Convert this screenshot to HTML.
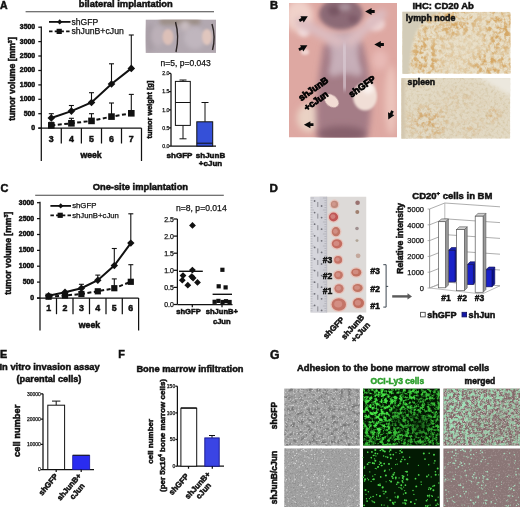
<!DOCTYPE html>
<html><head><meta charset="utf-8"><style>
html,body{margin:0;padding:0;background:#fff;}
svg{display:block;filter:blur(0.3px);}
text{font-family:"Liberation Sans",sans-serif;}
</style></head><body>
<svg width="520" height="507" viewBox="0 0 520 507">

<defs>
<filter id="b05" x="-20%" y="-20%" width="140%" height="140%"><feGaussianBlur stdDeviation="0.5"/></filter>
<filter id="b1" x="-50%" y="-50%" width="200%" height="200%"><feGaussianBlur stdDeviation="1"/></filter>
<filter id="b2" x="-50%" y="-50%" width="200%" height="200%"><feGaussianBlur stdDeviation="2"/></filter>
<filter id="b3" x="-50%" y="-50%" width="200%" height="200%"><feGaussianBlur stdDeviation="3"/></filter>
<filter id="b5" x="-50%" y="-50%" width="200%" height="200%"><feGaussianBlur stdDeviation="5"/></filter>
<clipPath id="clipAph"><rect x="145.5" y="19.4" width="70.5" height="33.5"/></clipPath>
<clipPath id="clipB"><rect x="289" y="3" width="108" height="134.5"/></clipPath>
<clipPath id="clipLN"><rect x="402.4" y="11.7" width="108.2" height="62"/></clipPath>
<clipPath id="clipSP"><rect x="401.3" y="78" width="109" height="60.7"/></clipPath>
<mask id="mLN" maskUnits="userSpaceOnUse" x="395" y="5" width="125" height="75"><g filter="url(#b5)">
<rect x="395" y="5" width="125" height="75" fill="#666"/>
<ellipse cx="455" cy="22" rx="18" ry="12" fill="#fff"/><ellipse cx="500" cy="30" rx="14" ry="18" fill="#fff"/>
<ellipse cx="492" cy="65" rx="18" ry="12" fill="#fff"/><ellipse cx="425" cy="58" rx="12" ry="18" fill="#fff"/>
<ellipse cx="470" cy="45" rx="12" ry="12" fill="#333"/><ellipse cx="432" cy="28" rx="10" ry="8" fill="#eee"/></g></mask>
<mask id="mSP" maskUnits="userSpaceOnUse" x="395" y="72" width="125" height="75"><g filter="url(#b5)">
<ellipse cx="428" cy="122" rx="20" ry="16" fill="#fff"/><ellipse cx="492" cy="114" rx="8" ry="8" fill="#fff"/>
<ellipse cx="470" cy="128" rx="14" ry="8" fill="#888"/><ellipse cx="460" cy="100" rx="20" ry="10" fill="#555"/></g></mask>
<mask id="mG1" maskUnits="userSpaceOnUse" x="360" y="385" width="85" height="65"><rect x="360" y="385" width="85" height="65" fill="#ccc"/><g filter="url(#b5)">
<ellipse cx="378" cy="410" rx="16" ry="28" fill="#fff"/><ellipse cx="405" cy="398" rx="14" ry="9" fill="#fff"/>
<ellipse cx="420" cy="425" rx="9" ry="10" fill="#555"/><ellipse cx="395" cy="420" rx="6" ry="6" fill="#555"/></g></mask>
<mask id="mG2" maskUnits="userSpaceOnUse" x="440" y="385" width="85" height="65"><rect x="440" y="385" width="85" height="65" fill="#ccc"/><g filter="url(#b5)">
<ellipse cx="458" cy="410" rx="16" ry="28" fill="#fff"/><ellipse cx="485" cy="398" rx="14" ry="9" fill="#fff"/>
<ellipse cx="500" cy="425" rx="9" ry="10" fill="#555"/><ellipse cx="475" cy="420" rx="6" ry="6" fill="#555"/></g></mask>
<clipPath id="clipD"><rect x="310.3" y="196.5" width="56.2" height="116.2"/></clipPath>
<filter id="spk1" x="0" y="0" width="100%" height="100%" filterUnits="objectBoundingBox"><feTurbulence type="fractalNoise" baseFrequency="0.22" numOctaves="3" seed="3" result="n"/><feColorMatrix in="n" type="matrix" values="0 0 0 0 0  0 0 0 0 0  0 0 0 0 0  3.4 0 0 0 -1.4" result="a"/><feComposite in="SourceGraphic" in2="a" operator="in"/></filter><filter id="spk2" x="0" y="0" width="100%" height="100%" filterUnits="objectBoundingBox"><feTurbulence type="fractalNoise" baseFrequency="0.22" numOctaves="3" seed="7" result="n"/><feColorMatrix in="n" type="matrix" values="0 0 0 0 0  0 0 0 0 0  0 0 0 0 0  3.4 0 0 0 -1.45" result="a"/><feComposite in="SourceGraphic" in2="a" operator="in"/></filter><filter id="spkS" x="0" y="0" width="100%" height="100%" filterUnits="objectBoundingBox"><feTurbulence type="fractalNoise" baseFrequency="0.35" numOctaves="2" seed="21" result="n"/><feColorMatrix in="n" type="matrix" values="0 0 0 0 0  0 0 0 0 0  0 0 0 0 0  3.0 0 0 0 -1.4" result="a"/><feComposite in="SourceGraphic" in2="a" operator="in"/></filter><filter id="spkG1" x="0" y="0" width="100%" height="100%" filterUnits="objectBoundingBox"><feTurbulence type="fractalNoise" baseFrequency="0.25" numOctaves="3" seed="11" result="n"/><feColorMatrix in="n" type="matrix" values="0 0 0 0 0  0 0 0 0 0  0 0 0 0 0  3.0 0 0 0 -1.35" result="a"/><feComposite in="SourceGraphic" in2="a" operator="in"/></filter><filter id="spkG2" x="0" y="0" width="100%" height="100%" filterUnits="objectBoundingBox"><feTurbulence type="fractalNoise" baseFrequency="0.6" numOctaves="2" seed="5" result="n"/><feColorMatrix in="n" type="matrix" values="0 0 0 0 0  0 0 0 0 0  0 0 0 0 0  3.0 0 0 0 -1.55" result="a"/><feComposite in="SourceGraphic" in2="a" operator="in"/></filter><filter id="spkG3" x="0" y="0" width="100%" height="100%" filterUnits="objectBoundingBox"><feTurbulence type="fractalNoise" baseFrequency="0.7" numOctaves="2" seed="9" result="n"/><feColorMatrix in="n" type="matrix" values="0 0 0 0 0  0 0 0 0 0  0 0 0 0 0  3.5 0 0 0 -1.9" result="a"/><feComposite in="SourceGraphic" in2="a" operator="in"/></filter><filter id="spkGr1" x="0" y="0" width="100%" height="100%" filterUnits="objectBoundingBox"><feTurbulence type="fractalNoise" baseFrequency="0.32" numOctaves="3" seed="13" result="n"/><feColorMatrix in="n" type="matrix" values="0 0 0 0 0  0 0 0 0 0  0 0 0 0 0  4.0 0 0 0 -1.6" result="a"/><feComposite in="SourceGraphic" in2="a" operator="in"/></filter><filter id="spkGr2" x="0" y="0" width="100%" height="100%" filterUnits="objectBoundingBox"><feTurbulence type="fractalNoise" baseFrequency="0.8" numOctaves="2" seed="17" result="n"/><feColorMatrix in="n" type="matrix" values="0 0 0 0 0  0 0 0 0 0  0 0 0 0 0  4.0 0 0 0 -2.35" result="a"/><feComposite in="SourceGraphic" in2="a" operator="in"/></filter>
</defs>

<rect width="520" height="507" fill="#fff"/>
<text x="0.0" y="8.8" font-size="10.5" font-weight="bold" text-anchor="start" fill="#111" stroke="#111" stroke-width="0.5">A</text>
<text x="78.8" y="6.6" font-size="9.35" font-weight="bold" text-anchor="start" fill="#111" stroke="#111" stroke-width="0.5">bilateral implantation</text>
<line x1="25.6" y1="11.7" x2="214.0" y2="11.7" stroke="#444" stroke-width="1.1"/>
<line x1="49.0" y1="21.9" x2="70.5" y2="21.9" stroke="#111" stroke-width="1.8"/>
<path d="M59.7 19.3L62.3 21.9L59.7 24.5L57.1 21.9Z" fill="#111"/>
<text x="71.4" y="24.9" font-size="8.6" font-weight="normal" text-anchor="start" fill="#111" stroke="#111" stroke-width="0.25">shGFP</text>
<line x1="49.0" y1="31.4" x2="70.5" y2="31.4" stroke="#111" stroke-width="1.8" stroke-dasharray="3.5 2.2"/>
<rect x="56.6" y="28.8" width="5.2" height="5.2" fill="#111" stroke="none" stroke-width="1"/>
<text x="71.4" y="34.4" font-size="8.7" font-weight="normal" text-anchor="start" fill="#111" stroke="#111" stroke-width="0.25">shJunB+cJun</text>
<line x1="41.3" y1="26.5" x2="41.3" y2="161.0" stroke="#111" stroke-width="1.25"/>
<line x1="38.3" y1="128.1" x2="141.5" y2="128.1" stroke="#111" stroke-width="1.25"/>
<line x1="141.5" y1="128.1" x2="141.5" y2="161.0" stroke="#111" stroke-width="1.25"/>
<line x1="38.3" y1="128.1" x2="41.3" y2="128.1" stroke="#111" stroke-width="1.25"/>
<text x="35.2" y="130.0" font-size="6.9" font-weight="bold" text-anchor="end" fill="#111" stroke="#111" stroke-width="0.5">0</text>
<line x1="38.3" y1="113.7" x2="41.3" y2="113.7" stroke="#111" stroke-width="1.25"/>
<text x="35.2" y="115.6" font-size="6.9" font-weight="bold" text-anchor="end" fill="#111" stroke="#111" stroke-width="0.5">500</text>
<line x1="38.3" y1="99.3" x2="41.3" y2="99.3" stroke="#111" stroke-width="1.25"/>
<text x="35.2" y="101.2" font-size="6.9" font-weight="bold" text-anchor="end" fill="#111" stroke="#111" stroke-width="0.5">1000</text>
<line x1="38.3" y1="84.9" x2="41.3" y2="84.9" stroke="#111" stroke-width="1.25"/>
<text x="35.2" y="86.8" font-size="6.9" font-weight="bold" text-anchor="end" fill="#111" stroke="#111" stroke-width="0.5">1500</text>
<line x1="38.3" y1="70.5" x2="41.3" y2="70.5" stroke="#111" stroke-width="1.25"/>
<text x="35.2" y="72.4" font-size="6.9" font-weight="bold" text-anchor="end" fill="#111" stroke="#111" stroke-width="0.5">2000</text>
<line x1="38.3" y1="56.0" x2="41.3" y2="56.0" stroke="#111" stroke-width="1.25"/>
<text x="35.2" y="57.9" font-size="6.9" font-weight="bold" text-anchor="end" fill="#111" stroke="#111" stroke-width="0.5">2500</text>
<line x1="38.3" y1="41.6" x2="41.3" y2="41.6" stroke="#111" stroke-width="1.25"/>
<text x="35.2" y="43.5" font-size="6.9" font-weight="bold" text-anchor="end" fill="#111" stroke="#111" stroke-width="0.5">3000</text>
<line x1="38.3" y1="27.2" x2="41.3" y2="27.2" stroke="#111" stroke-width="1.25"/>
<text x="35.2" y="29.1" font-size="6.9" font-weight="bold" text-anchor="end" fill="#111" stroke="#111" stroke-width="0.5">3500</text>
<line x1="61.3" y1="128.1" x2="61.3" y2="143.5" stroke="#111" stroke-width="1.25"/>
<line x1="81.4" y1="128.1" x2="81.4" y2="143.5" stroke="#111" stroke-width="1.25"/>
<line x1="101.5" y1="128.1" x2="101.5" y2="143.5" stroke="#111" stroke-width="1.25"/>
<line x1="121.5" y1="128.1" x2="121.5" y2="143.5" stroke="#111" stroke-width="1.25"/>
<text x="51.3" y="142.0" font-size="8.8" font-weight="bold" text-anchor="middle" fill="#111" stroke="#111" stroke-width="0.5">3</text>
<text x="71.4" y="142.0" font-size="8.8" font-weight="bold" text-anchor="middle" fill="#111" stroke="#111" stroke-width="0.5">4</text>
<text x="91.5" y="142.0" font-size="8.8" font-weight="bold" text-anchor="middle" fill="#111" stroke="#111" stroke-width="0.5">5</text>
<text x="111.5" y="142.0" font-size="8.8" font-weight="bold" text-anchor="middle" fill="#111" stroke="#111" stroke-width="0.5">6</text>
<text x="131.3" y="142.0" font-size="8.8" font-weight="bold" text-anchor="middle" fill="#111" stroke="#111" stroke-width="0.5">7</text>
<text x="91.1" y="158.4" font-size="8.7" font-weight="bold" text-anchor="middle" fill="#111" stroke="#111" stroke-width="0.5">week</text>
<text x="14.9" y="79.0" font-size="8.65" font-weight="bold" text-anchor="middle" fill="#111" stroke="#111" stroke-width="0.5" transform="rotate(-90 14.9 79)">tumor volume [mm<tspan font-size="5.5" dy="-3">3</tspan><tspan dy="3">]</tspan></text>
<line x1="51.3" y1="118.0" x2="51.3" y2="113.7" stroke="#111" stroke-width="1.1"/>
<line x1="48.8" y1="113.7" x2="53.8" y2="113.7" stroke="#111" stroke-width="1.1"/>
<line x1="71.4" y1="111.1" x2="71.4" y2="105.5" stroke="#111" stroke-width="1.1"/>
<line x1="68.9" y1="105.5" x2="73.9" y2="105.5" stroke="#111" stroke-width="1.1"/>
<line x1="91.5" y1="102.5" x2="91.5" y2="92.7" stroke="#111" stroke-width="1.1"/>
<line x1="89.0" y1="92.7" x2="94.0" y2="92.7" stroke="#111" stroke-width="1.1"/>
<line x1="111.5" y1="84.0" x2="111.5" y2="63.8" stroke="#111" stroke-width="1.1"/>
<line x1="109.0" y1="63.8" x2="114.0" y2="63.8" stroke="#111" stroke-width="1.1"/>
<line x1="131.3" y1="68.4" x2="131.3" y2="35.0" stroke="#111" stroke-width="1.1"/>
<line x1="128.8" y1="35.0" x2="133.8" y2="35.0" stroke="#111" stroke-width="1.1"/>
<line x1="51.3" y1="125.4" x2="51.3" y2="122.3" stroke="#111" stroke-width="1.1"/>
<line x1="48.8" y1="122.3" x2="53.8" y2="122.3" stroke="#111" stroke-width="1.1"/>
<line x1="71.4" y1="123.3" x2="71.4" y2="118.3" stroke="#111" stroke-width="1.1"/>
<line x1="68.9" y1="118.3" x2="73.9" y2="118.3" stroke="#111" stroke-width="1.1"/>
<line x1="91.5" y1="120.9" x2="91.5" y2="113.7" stroke="#111" stroke-width="1.1"/>
<line x1="89.0" y1="113.7" x2="94.0" y2="113.7" stroke="#111" stroke-width="1.1"/>
<line x1="111.5" y1="116.6" x2="111.5" y2="103.0" stroke="#111" stroke-width="1.1"/>
<line x1="109.0" y1="103.0" x2="114.0" y2="103.0" stroke="#111" stroke-width="1.1"/>
<line x1="131.3" y1="113.3" x2="131.3" y2="94.4" stroke="#111" stroke-width="1.1"/>
<line x1="128.8" y1="94.4" x2="133.8" y2="94.4" stroke="#111" stroke-width="1.1"/>
<polyline points="51.3,118.0 71.4,111.1 91.5,102.5 111.5,84.0 131.3,68.4" fill="none" stroke="#111" stroke-width="2"/>
<polyline points="51.3,125.4 71.4,123.3 91.5,120.9 111.5,116.6 131.3,113.3" fill="none" stroke="#111" stroke-width="2" stroke-dasharray="4 2.5"/>
<path d="M51.3 114.2L55.1 118.0L51.3 121.8L47.5 118.0Z" fill="#111"/>
<path d="M71.4 107.3L75.2 111.1L71.4 114.9L67.6 111.1Z" fill="#111"/>
<path d="M91.5 98.7L95.3 102.5L91.5 106.3L87.7 102.5Z" fill="#111"/>
<path d="M111.5 80.2L115.3 84.0L111.5 87.8L107.7 84.0Z" fill="#111"/>
<path d="M131.3 64.6L135.1 68.4L131.3 72.2L127.5 68.4Z" fill="#111"/>
<rect x="48.0" y="122.1" width="6.6" height="6.6" fill="#111" stroke="none" stroke-width="1"/>
<rect x="68.1" y="120.0" width="6.6" height="6.6" fill="#111" stroke="none" stroke-width="1"/>
<rect x="88.2" y="117.6" width="6.6" height="6.6" fill="#111" stroke="none" stroke-width="1"/>
<rect x="108.2" y="113.3" width="6.6" height="6.6" fill="#111" stroke="none" stroke-width="1"/>
<rect x="128.0" y="110.0" width="6.6" height="6.6" fill="#111" stroke="none" stroke-width="1"/>
<g clip-path="url(#clipAph)">
<rect x="145.5" y="19.4" width="70.5" height="33.5" fill="#b2a8b0" stroke="none" stroke-width="1"/>
<rect x="160" y="18" width="40" height="7" fill="#9c8e86" filter="url(#b2)"/>
<ellipse cx="150" cy="38" rx="5" ry="14" fill="#a89ea6" filter="url(#b2)"/>
<ellipse cx="195" cy="38" rx="11" ry="11" fill="#c0b6be" filter="url(#b2)"/>
<ellipse cx="158" cy="36" rx="7" ry="10" fill="#bcb0b8" filter="url(#b2)"/>
<ellipse cx="168" cy="37" rx="5.5" ry="8" fill="#dcc0b8" filter="url(#b1)"/>
<ellipse cx="207" cy="37" rx="5" ry="8" fill="#e0c6be" filter="url(#b1)"/>
<ellipse cx="185" cy="26" rx="5" ry="5" fill="#c8bcc0" filter="url(#b2)"/>
<path d="M175.5 22 Q179.5 36 176 52" stroke="#2e2626" stroke-width="1.4" fill="none" filter="url(#b05)"/>
<path d="M212 24 Q216 37 212.5 50" stroke="#2e2626" stroke-width="1.4" fill="none" filter="url(#b05)"/>
</g>
<text x="160.6" y="66.1" font-size="8.5" font-weight="normal" text-anchor="start" fill="#111" stroke="#111" stroke-width="0.25">n=5, p=0.043</text>
<line x1="171.0" y1="73.4" x2="171.0" y2="146.1" stroke="#111" stroke-width="1.25"/>
<line x1="171.0" y1="146.1" x2="216.0" y2="146.1" stroke="#111" stroke-width="1.25"/>
<line x1="169.0" y1="146.1" x2="171.0" y2="146.1" stroke="#111" stroke-width="1.25"/>
<text x="169.5" y="147.9" font-size="5.2" font-weight="normal" text-anchor="end" fill="#111" stroke="#111" stroke-width="0.25">0.0</text>
<line x1="169.0" y1="127.9" x2="171.0" y2="127.9" stroke="#111" stroke-width="1.25"/>
<text x="169.5" y="129.7" font-size="5.2" font-weight="normal" text-anchor="end" fill="#111" stroke="#111" stroke-width="0.25">0.5</text>
<line x1="169.0" y1="109.8" x2="171.0" y2="109.8" stroke="#111" stroke-width="1.25"/>
<text x="169.5" y="111.6" font-size="5.2" font-weight="normal" text-anchor="end" fill="#111" stroke="#111" stroke-width="0.25">1.0</text>
<line x1="169.0" y1="91.6" x2="171.0" y2="91.6" stroke="#111" stroke-width="1.25"/>
<text x="169.5" y="93.4" font-size="5.2" font-weight="normal" text-anchor="end" fill="#111" stroke="#111" stroke-width="0.25">1.5</text>
<line x1="169.0" y1="73.4" x2="171.0" y2="73.4" stroke="#111" stroke-width="1.25"/>
<text x="169.5" y="75.2" font-size="5.2" font-weight="normal" text-anchor="end" fill="#111" stroke="#111" stroke-width="0.25">2.0</text>
<text x="152.4" y="109.6" font-size="7.4" font-weight="bold" text-anchor="middle" fill="#111" stroke="#111" stroke-width="0.5" transform="rotate(-90 152.4 109.6)">tumor weight [g]</text>
<line x1="183.0" y1="80.0" x2="183.0" y2="138.8" stroke="#111" stroke-width="1"/>
<line x1="179.5" y1="80.0" x2="186.5" y2="80.0" stroke="#111" stroke-width="1"/>
<line x1="179.5" y1="138.8" x2="186.5" y2="138.8" stroke="#111" stroke-width="1"/>
<rect x="175.4" y="81.4" width="14.9" height="44.0" fill="#fff" stroke="#111" stroke-width="1"/>
<line x1="175.4" y1="102.5" x2="190.3" y2="102.5" stroke="#111" stroke-width="1"/>
<line x1="205.0" y1="102.5" x2="205.0" y2="121.8" stroke="#111" stroke-width="1"/>
<line x1="201.5" y1="102.5" x2="208.5" y2="102.5" stroke="#111" stroke-width="1"/>
<rect x="196.8" y="121.8" width="15.9" height="24.3" fill="#3550d8" stroke="#111" stroke-width="1"/>
<line x1="196.8" y1="143.2" x2="212.7" y2="143.2" stroke="#111" stroke-width="1"/>
<text x="179.5" y="157.7" font-size="8.0" font-weight="bold" text-anchor="middle" fill="#111" stroke="#111" stroke-width="0.5">shGFP</text>
<text x="210.5" y="157.7" font-size="8.0" font-weight="bold" text-anchor="middle" fill="#111" stroke="#111" stroke-width="0.5">shJunB</text>
<text x="210.5" y="165.5" font-size="8.0" font-weight="bold" text-anchor="middle" fill="#111" stroke="#111" stroke-width="0.5">+cJun</text>
<text x="269.9" y="8.5" font-size="11.2" font-weight="bold" text-anchor="start" fill="#111" stroke="#111" stroke-width="0.5">B</text>
<g clip-path="url(#clipB)">
<rect x="289.0" y="3.0" width="108.0" height="134.5" fill="#dea8a2" stroke="none" stroke-width="1"/>
<ellipse cx="299" cy="16" rx="14" ry="16" fill="#f0d2ca" filter="url(#b3)"/>
<ellipse cx="376" cy="24" rx="9" ry="7" fill="#f0d6d4" filter="url(#b2)"/>
<ellipse cx="304" cy="31" rx="6" ry="6" fill="#f2dcdc" filter="url(#b2)"/>
<ellipse cx="309" cy="118" rx="12" ry="14" fill="#ead2c4" filter="url(#b3)"/>
<ellipse cx="391" cy="100" rx="6" ry="35" fill="#ecc4bc" filter="url(#b3)"/>
<ellipse cx="380" cy="60" rx="8" ry="10" fill="#e8bab6" filter="url(#b3)"/>
<path d="M324 44 L362 42 Q370 70 371 100 Q371 125 366 140 L318 140 Q315 118 317 98 Q319 70 324 44 Z" fill="#a47c86" filter="url(#b3)"/>
<ellipse cx="341" cy="14" rx="22" ry="16" fill="#8c6a76" filter="url(#b2)"/>
<ellipse cx="334" cy="11" rx="6" ry="5" fill="#785664" filter="url(#b2)"/>
<ellipse cx="353" cy="19" rx="5" ry="4" fill="#7e5a68" filter="url(#b2)"/>
<ellipse cx="345" cy="7" rx="6" ry="4" fill="#a8909a" filter="url(#b2)"/>
<path d="M328 34 L360 32 L357 74 L333 74 Z" fill="#c4acb6" filter="url(#b3)"/>
<path d="M300 22 L344 45 M382 14 L346 45" stroke="#dcbcc0" stroke-width="10" stroke-linecap="round" fill="none" filter="url(#b3)"/>
<path d="M345 46 L333 72 M345 46 L358 72" stroke="#c8b0ba" stroke-width="8" stroke-linecap="round" fill="none" filter="url(#b3)"/>
<path d="M344 44 L345 90" stroke="#dccdd6" stroke-width="4" fill="none" filter="url(#b2)"/>
<ellipse cx="305" cy="52" rx="4" ry="3" fill="#f0d4d0" filter="url(#b1)"/>
<ellipse cx="342" cy="134" rx="24" ry="8" fill="#86606c" filter="url(#b3)"/>
<ellipse cx="365" cy="96.5" rx="12" ry="14" fill="#f0ded6" filter="url(#b1)"/>
<ellipse cx="368" cy="88" rx="6" ry="6" fill="#fbf2ee" filter="url(#b2)"/>
<ellipse cx="331.5" cy="100.8" rx="8" ry="5.6" transform="rotate(40 331.5 100.8)" fill="#f2dcd4" filter="url(#b05)"/>
</g>
<path transform="translate(307.8 16.3) rotate(-28) scale(1.0)" d="M0 0 L-6.5 -3.5 L-6.5 -1.4 L-9.6 -1.4 L-9.6 1.4 L-6.5 1.4 L-6.5 3.5 Z" fill="#0a0a0a"/>
<path transform="translate(307.4 45.3) rotate(-28) scale(1.0)" d="M0 0 L-6.5 -3.5 L-6.5 -1.4 L-9.6 -1.4 L-9.6 1.4 L-6.5 1.4 L-6.5 3.5 Z" fill="#0a0a0a"/>
<path transform="translate(365.1 11.5) rotate(180) scale(1.0)" d="M0 0 L-6.5 -3.5 L-6.5 -1.4 L-9.6 -1.4 L-9.6 1.4 L-6.5 1.4 L-6.5 3.5 Z" fill="#0a0a0a"/>
<path transform="translate(374.3 44.5) rotate(180) scale(1.0)" d="M0 0 L-6.5 -3.5 L-6.5 -1.4 L-9.6 -1.4 L-9.6 1.4 L-6.5 1.4 L-6.5 3.5 Z" fill="#0a0a0a"/>
<path transform="translate(303.9 124.7) rotate(180) scale(1.0)" d="M0 0 L-6.5 -3.5 L-6.5 -1.4 L-9.6 -1.4 L-9.6 1.4 L-6.5 1.4 L-6.5 3.5 Z" fill="#0a0a0a"/>
<path transform="translate(388.3 119.6) rotate(116) scale(1.0)" d="M0 0 L-6.5 -3.5 L-6.5 -1.4 L-9.6 -1.4 L-9.6 1.4 L-6.5 1.4 L-6.5 3.5 Z" fill="#0a0a0a"/>
<text x="301.2" y="101.2" font-size="9.3" font-weight="bold" text-anchor="start" fill="#000" stroke="#000" stroke-width="0.8" transform="rotate(-35 301.2 101.2)">shJunB</text>
<text x="306.8" y="111.2" font-size="9.3" font-weight="bold" text-anchor="start" fill="#000" stroke="#000" stroke-width="0.8" transform="rotate(-35 306.8 111.2)">+cJun</text>
<text x="351.6" y="97.8" font-size="9.4" font-weight="bold" text-anchor="start" fill="#000" stroke="#000" stroke-width="0.8" transform="rotate(-35 351.6 97.8)">shGFP</text>
<text x="412.4" y="9.3" font-size="9.5" font-weight="bold" text-anchor="start" fill="#111" stroke="#111" stroke-width="0.5">IHC: CD20 Ab</text>
<g clip-path="url(#clipLN)">
<rect x="402.4" y="11.7" width="108.2" height="62.0" fill="#e9dfc8" stroke="none" stroke-width="1"/>
<rect x="402" y="11.7" width="110" height="63" fill="#d7c8a8" filter="url(#spkS)" opacity="0.6"/>
<rect x="402" y="11.7" width="110" height="63" fill="#d4a664" filter="url(#spk1)" mask="url(#mLN)"/>
<path d="M400 76 L400 9 L450 9 Q428 14 418 28 Q410 42 409 76 Z" fill="#d3ccb8" filter="url(#b1)"/>
</g>
<text x="405.8" y="21.4" font-size="8.85" font-weight="bold" text-anchor="start" fill="#111" stroke="#111" stroke-width="0.5">lymph node</text>
<g clip-path="url(#clipSP)">
<rect x="401.3" y="78.0" width="109.0" height="60.7" fill="#e2d9c4" stroke="none" stroke-width="1"/>
<rect x="401" y="78" width="110" height="61" fill="#d2c2a0" filter="url(#spkS)" opacity="0.7"/>
<path d="M476 76 L514 76 L514 98 Z" fill="#ece8de" filter="url(#b2)"/>
<rect x="400" y="78" width="5" height="62" fill="#d4c8b0" filter="url(#b1)"/>
<rect x="401" y="78" width="110" height="61" fill="#d0a060" filter="url(#spk2)" mask="url(#mSP)" opacity="0.8"/>
</g>
<text x="407.6" y="84.6" font-size="8.7" font-weight="bold" text-anchor="start" fill="#111" stroke="#111" stroke-width="0.5">spleen</text>
<text x="0.6" y="192.2" font-size="11" font-weight="bold" text-anchor="start" fill="#111" stroke="#111" stroke-width="0.5">C</text>
<text x="92.7" y="190.1" font-size="9.34" font-weight="bold" text-anchor="start" fill="#111" stroke="#111" stroke-width="0.5">One-site implantation</text>
<line x1="35.2" y1="195.3" x2="223.8" y2="195.3" stroke="#444" stroke-width="1.1"/>
<line x1="50.4" y1="205.9" x2="71.0" y2="205.9" stroke="#111" stroke-width="1.8"/>
<path d="M60.7 203.3L63.3 205.9L60.7 208.5L58.1 205.9Z" fill="#111"/>
<text x="72.2" y="208.3" font-size="7.75" font-weight="normal" text-anchor="start" fill="#111" stroke="#111" stroke-width="0.25">shGFP</text>
<line x1="50.4" y1="215.3" x2="71.0" y2="215.3" stroke="#111" stroke-width="1.8" stroke-dasharray="3.5 2.2"/>
<rect x="57.6" y="212.7" width="5.2" height="5.2" fill="#111" stroke="none" stroke-width="1"/>
<text x="72.2" y="217.9" font-size="7.75" font-weight="normal" text-anchor="start" fill="#111" stroke="#111" stroke-width="0.25">shJunB+cJun</text>
<line x1="40.0" y1="201.8" x2="40.0" y2="330.5" stroke="#111" stroke-width="1.25"/>
<line x1="37.0" y1="298.0" x2="138.6" y2="298.0" stroke="#111" stroke-width="1.25"/>
<line x1="138.6" y1="298.0" x2="138.6" y2="330.5" stroke="#111" stroke-width="1.25"/>
<line x1="37.0" y1="298.0" x2="40.0" y2="298.0" stroke="#111" stroke-width="1.25"/>
<text x="34.2" y="299.9" font-size="6.9" font-weight="bold" text-anchor="end" fill="#111" stroke="#111" stroke-width="0.5">0</text>
<line x1="37.0" y1="282.1" x2="40.0" y2="282.1" stroke="#111" stroke-width="1.25"/>
<text x="34.2" y="284.0" font-size="6.9" font-weight="bold" text-anchor="end" fill="#111" stroke="#111" stroke-width="0.5">500</text>
<line x1="37.0" y1="266.2" x2="40.0" y2="266.2" stroke="#111" stroke-width="1.25"/>
<text x="34.2" y="268.1" font-size="6.9" font-weight="bold" text-anchor="end" fill="#111" stroke="#111" stroke-width="0.5">1000</text>
<line x1="37.0" y1="250.4" x2="40.0" y2="250.4" stroke="#111" stroke-width="1.25"/>
<text x="34.2" y="252.3" font-size="6.9" font-weight="bold" text-anchor="end" fill="#111" stroke="#111" stroke-width="0.5">1500</text>
<line x1="37.0" y1="234.5" x2="40.0" y2="234.5" stroke="#111" stroke-width="1.25"/>
<text x="34.2" y="236.4" font-size="6.9" font-weight="bold" text-anchor="end" fill="#111" stroke="#111" stroke-width="0.5">2000</text>
<line x1="37.0" y1="218.6" x2="40.0" y2="218.6" stroke="#111" stroke-width="1.25"/>
<text x="34.2" y="220.5" font-size="6.9" font-weight="bold" text-anchor="end" fill="#111" stroke="#111" stroke-width="0.5">2500</text>
<line x1="37.0" y1="202.7" x2="40.0" y2="202.7" stroke="#111" stroke-width="1.25"/>
<text x="34.2" y="204.6" font-size="6.9" font-weight="bold" text-anchor="end" fill="#111" stroke="#111" stroke-width="0.5">3000</text>
<line x1="56.5" y1="298.0" x2="56.5" y2="314.2" stroke="#111" stroke-width="1.25"/>
<line x1="73.0" y1="298.0" x2="73.0" y2="314.2" stroke="#111" stroke-width="1.25"/>
<line x1="89.5" y1="298.0" x2="89.5" y2="314.2" stroke="#111" stroke-width="1.25"/>
<line x1="106.0" y1="298.0" x2="106.0" y2="314.2" stroke="#111" stroke-width="1.25"/>
<line x1="122.3" y1="298.0" x2="122.3" y2="314.2" stroke="#111" stroke-width="1.25"/>
<text x="48.6" y="311.4" font-size="8.8" font-weight="bold" text-anchor="middle" fill="#111" stroke="#111" stroke-width="0.5">1</text>
<text x="65.0" y="311.4" font-size="8.8" font-weight="bold" text-anchor="middle" fill="#111" stroke="#111" stroke-width="0.5">2</text>
<text x="81.4" y="311.4" font-size="8.8" font-weight="bold" text-anchor="middle" fill="#111" stroke="#111" stroke-width="0.5">3</text>
<text x="97.8" y="311.4" font-size="8.8" font-weight="bold" text-anchor="middle" fill="#111" stroke="#111" stroke-width="0.5">4</text>
<text x="114.3" y="311.4" font-size="8.8" font-weight="bold" text-anchor="middle" fill="#111" stroke="#111" stroke-width="0.5">5</text>
<text x="130.8" y="311.4" font-size="8.8" font-weight="bold" text-anchor="middle" fill="#111" stroke="#111" stroke-width="0.5">6</text>
<text x="89.5" y="328.1" font-size="8.7" font-weight="bold" text-anchor="middle" fill="#111" stroke="#111" stroke-width="0.5">week</text>
<text x="11.5" y="253.2" font-size="8.6" font-weight="bold" text-anchor="middle" fill="#111" stroke="#111" stroke-width="0.5" transform="rotate(-90 11.5 253.2)">tumor volume [mm<tspan font-size="5.5" dy="-3">3</tspan><tspan dy="3">]</tspan></text>
<line x1="81.4" y1="288.2" x2="81.4" y2="284.3" stroke="#111" stroke-width="1.1"/>
<line x1="78.9" y1="284.3" x2="83.9" y2="284.3" stroke="#111" stroke-width="1.1"/>
<line x1="97.8" y1="280.2" x2="97.8" y2="275.1" stroke="#111" stroke-width="1.1"/>
<line x1="95.3" y1="275.1" x2="100.3" y2="275.1" stroke="#111" stroke-width="1.1"/>
<line x1="114.3" y1="265.6" x2="114.3" y2="248.5" stroke="#111" stroke-width="1.1"/>
<line x1="111.8" y1="248.5" x2="116.8" y2="248.5" stroke="#111" stroke-width="1.1"/>
<line x1="130.8" y1="243.1" x2="130.8" y2="213.8" stroke="#111" stroke-width="1.1"/>
<line x1="128.3" y1="213.8" x2="133.3" y2="213.8" stroke="#111" stroke-width="1.1"/>
<line x1="114.3" y1="288.2" x2="114.3" y2="278.9" stroke="#111" stroke-width="1.1"/>
<line x1="111.8" y1="278.9" x2="116.8" y2="278.9" stroke="#111" stroke-width="1.1"/>
<line x1="130.8" y1="281.8" x2="130.8" y2="264.7" stroke="#111" stroke-width="1.1"/>
<line x1="128.3" y1="264.7" x2="133.3" y2="264.7" stroke="#111" stroke-width="1.1"/>
<polyline points="48.6,295.8 65.0,292.3 81.4,288.2 97.8,280.2 114.3,265.6 130.8,243.1" fill="none" stroke="#111" stroke-width="2"/>
<polyline points="48.6,296.7 65.0,295.5 81.4,294.0 97.8,291.3 114.3,288.2 130.8,281.8" fill="none" stroke="#111" stroke-width="2" stroke-dasharray="4 2.5"/>
<rect x="45.5" y="293.6" width="6.2" height="6.2" fill="#111" stroke="none" stroke-width="1"/>
<rect x="61.9" y="292.4" width="6.2" height="6.2" fill="#111" stroke="none" stroke-width="1"/>
<rect x="78.3" y="290.9" width="6.2" height="6.2" fill="#111" stroke="none" stroke-width="1"/>
<rect x="94.7" y="288.2" width="6.2" height="6.2" fill="#111" stroke="none" stroke-width="1"/>
<rect x="111.2" y="285.1" width="6.2" height="6.2" fill="#111" stroke="none" stroke-width="1"/>
<rect x="127.7" y="278.7" width="6.2" height="6.2" fill="#111" stroke="none" stroke-width="1"/>
<path d="M48.6 292.1L52.3 295.8L48.6 299.5L44.9 295.8Z" fill="#111"/>
<path d="M65.0 288.6L68.7 292.3L65.0 296.0L61.3 292.3Z" fill="#111"/>
<path d="M81.4 284.5L85.1 288.2L81.4 291.9L77.7 288.2Z" fill="#111"/>
<path d="M97.8 276.5L101.5 280.2L97.8 283.9L94.1 280.2Z" fill="#111"/>
<path d="M114.3 261.9L118.0 265.6L114.3 269.3L110.6 265.6Z" fill="#111"/>
<path d="M130.8 239.4L134.5 243.1L130.8 246.8L127.1 243.1Z" fill="#111"/>
<text x="176.0" y="211.0" font-size="8.6" font-weight="normal" text-anchor="start" fill="#111" stroke="#111" stroke-width="0.25">n=8, p=0.014</text>
<line x1="177.4" y1="219.0" x2="177.4" y2="304.5" stroke="#111" stroke-width="1.25"/>
<line x1="177.4" y1="304.5" x2="232.5" y2="304.5" stroke="#111" stroke-width="1.25"/>
<line x1="173.6" y1="304.5" x2="177.4" y2="304.5" stroke="#111" stroke-width="1.25"/>
<text x="173.8" y="307.0" font-size="6.9" font-weight="normal" text-anchor="end" fill="#111" stroke="#111" stroke-width="0.25">0.0</text>
<line x1="173.6" y1="287.4" x2="177.4" y2="287.4" stroke="#111" stroke-width="1.25"/>
<text x="173.8" y="289.9" font-size="6.9" font-weight="normal" text-anchor="end" fill="#111" stroke="#111" stroke-width="0.25">0.5</text>
<line x1="173.6" y1="270.3" x2="177.4" y2="270.3" stroke="#111" stroke-width="1.25"/>
<text x="173.8" y="272.8" font-size="6.9" font-weight="normal" text-anchor="end" fill="#111" stroke="#111" stroke-width="0.25">1.0</text>
<line x1="173.6" y1="253.2" x2="177.4" y2="253.2" stroke="#111" stroke-width="1.25"/>
<text x="173.8" y="255.7" font-size="6.9" font-weight="normal" text-anchor="end" fill="#111" stroke="#111" stroke-width="0.25">1.5</text>
<line x1="173.6" y1="236.1" x2="177.4" y2="236.1" stroke="#111" stroke-width="1.25"/>
<text x="173.8" y="238.6" font-size="6.9" font-weight="normal" text-anchor="end" fill="#111" stroke="#111" stroke-width="0.25">2.0</text>
<line x1="173.6" y1="219.0" x2="177.4" y2="219.0" stroke="#111" stroke-width="1.25"/>
<text x="173.8" y="221.5" font-size="6.9" font-weight="normal" text-anchor="end" fill="#111" stroke="#111" stroke-width="0.25">2.5</text>
<path d="M192.5 222.0L195.9 225.4L192.5 228.8L189.1 225.4Z" fill="#111"/>
<path d="M192.4 266.7L195.8 270.1L192.4 273.5L189.0 270.1Z" fill="#111"/>
<path d="M183.0 272.2L186.4 275.6L183.0 279.0L179.6 275.6Z" fill="#111"/>
<path d="M191.7 273.2L195.1 276.6L191.7 280.0L188.3 276.6Z" fill="#111"/>
<path d="M182.3 276.8L185.7 280.2L182.3 283.6L178.9 280.2Z" fill="#111"/>
<path d="M193.1 274.6L196.5 278.0L193.1 281.4L189.7 278.0Z" fill="#111"/>
<path d="M187.8 281.8L191.2 285.2L187.8 288.6L184.4 285.2Z" fill="#111"/>
<path d="M197.5 279.0L200.9 282.4L197.5 285.8L194.1 282.4Z" fill="#111"/>
<line x1="179.0" y1="271.3" x2="202.8" y2="271.3" stroke="#111" stroke-width="1.4"/>
<rect x="220.3" y="267.7" width="4.2" height="4.2" fill="#111" stroke="none" stroke-width="1"/>
<rect x="216.6" y="284.2" width="4.2" height="4.2" fill="#111" stroke="none" stroke-width="1"/>
<rect x="223.5" y="285.3" width="4.2" height="4.2" fill="#111" stroke="none" stroke-width="1"/>
<rect x="212.5" y="299.7" width="4.2" height="4.2" fill="#111" stroke="none" stroke-width="1"/>
<rect x="216.3" y="298.8" width="4.2" height="4.2" fill="#111" stroke="none" stroke-width="1"/>
<rect x="220.4" y="299.9" width="4.2" height="4.2" fill="#111" stroke="none" stroke-width="1"/>
<rect x="223.9" y="299.1" width="4.2" height="4.2" fill="#111" stroke="none" stroke-width="1"/>
<rect x="227.5" y="299.9" width="4.2" height="4.2" fill="#111" stroke="none" stroke-width="1"/>
<line x1="212.6" y1="294.3" x2="232.0" y2="294.3" stroke="#111" stroke-width="1.4"/>
<line x1="192.3" y1="304.5" x2="192.3" y2="307.3" stroke="#111" stroke-width="1.25"/>
<line x1="222.0" y1="304.5" x2="222.0" y2="307.3" stroke="#111" stroke-width="1.25"/>
<text x="188.5" y="314.0" font-size="7.6" font-weight="bold" text-anchor="middle" fill="#111" stroke="#111" stroke-width="0.5">shGFP</text>
<text x="221.8" y="314.0" font-size="7.6" font-weight="bold" text-anchor="middle" fill="#111" stroke="#111" stroke-width="0.5">shJunB+</text>
<text x="221.8" y="323.8" font-size="7.6" font-weight="bold" text-anchor="middle" fill="#111" stroke="#111" stroke-width="0.5">cJun</text>
<text x="269.6" y="191.8" font-size="11.6" font-weight="bold" text-anchor="start" fill="#111" stroke="#111" stroke-width="0.5">D</text>
<g clip-path="url(#clipD)">
<rect x="310.3" y="196.5" width="56.2" height="116.2" fill="#dddad8" stroke="none" stroke-width="1"/>
<rect x="310.3" y="196.5" width="16.4" height="116.2" fill="#d6d6dc" stroke="none" stroke-width="1"/>
<rect x="319.5" y="196.5" width="7.2" height="116.2" fill="#cfcfd6" stroke="none" stroke-width="1"/>
<line x1="326.7" y1="196.5" x2="326.7" y2="312.7" stroke="#b8b8c0" stroke-width="0.8"/>
<line x1="310.5" y1="198.0" x2="314.0" y2="198.0" stroke="#9a9aa2" stroke-width="0.5"/>
<line x1="322.9" y1="198.0" x2="326.4" y2="198.0" stroke="#9a9aa2" stroke-width="0.5"/>
<line x1="310.5" y1="200.4" x2="312.5" y2="200.4" stroke="#9a9aa2" stroke-width="0.5"/>
<line x1="324.4" y1="200.4" x2="326.4" y2="200.4" stroke="#9a9aa2" stroke-width="0.5"/>
<line x1="310.5" y1="202.8" x2="312.5" y2="202.8" stroke="#9a9aa2" stroke-width="0.5"/>
<line x1="324.4" y1="202.8" x2="326.4" y2="202.8" stroke="#9a9aa2" stroke-width="0.5"/>
<line x1="310.5" y1="205.2" x2="312.5" y2="205.2" stroke="#9a9aa2" stroke-width="0.5"/>
<line x1="324.4" y1="205.2" x2="326.4" y2="205.2" stroke="#9a9aa2" stroke-width="0.5"/>
<line x1="310.5" y1="207.6" x2="312.5" y2="207.6" stroke="#9a9aa2" stroke-width="0.5"/>
<line x1="324.4" y1="207.6" x2="326.4" y2="207.6" stroke="#9a9aa2" stroke-width="0.5"/>
<line x1="310.5" y1="210.0" x2="314.0" y2="210.0" stroke="#9a9aa2" stroke-width="0.5"/>
<line x1="322.9" y1="210.0" x2="326.4" y2="210.0" stroke="#9a9aa2" stroke-width="0.5"/>
<line x1="310.5" y1="212.4" x2="312.5" y2="212.4" stroke="#9a9aa2" stroke-width="0.5"/>
<line x1="324.4" y1="212.4" x2="326.4" y2="212.4" stroke="#9a9aa2" stroke-width="0.5"/>
<line x1="310.5" y1="214.8" x2="312.5" y2="214.8" stroke="#9a9aa2" stroke-width="0.5"/>
<line x1="324.4" y1="214.8" x2="326.4" y2="214.8" stroke="#9a9aa2" stroke-width="0.5"/>
<line x1="310.5" y1="217.2" x2="312.5" y2="217.2" stroke="#9a9aa2" stroke-width="0.5"/>
<line x1="324.4" y1="217.2" x2="326.4" y2="217.2" stroke="#9a9aa2" stroke-width="0.5"/>
<line x1="310.5" y1="219.6" x2="312.5" y2="219.6" stroke="#9a9aa2" stroke-width="0.5"/>
<line x1="324.4" y1="219.6" x2="326.4" y2="219.6" stroke="#9a9aa2" stroke-width="0.5"/>
<line x1="310.5" y1="222.0" x2="314.0" y2="222.0" stroke="#9a9aa2" stroke-width="0.5"/>
<line x1="322.9" y1="222.0" x2="326.4" y2="222.0" stroke="#9a9aa2" stroke-width="0.5"/>
<line x1="310.5" y1="224.4" x2="312.5" y2="224.4" stroke="#9a9aa2" stroke-width="0.5"/>
<line x1="324.4" y1="224.4" x2="326.4" y2="224.4" stroke="#9a9aa2" stroke-width="0.5"/>
<line x1="310.5" y1="226.8" x2="312.5" y2="226.8" stroke="#9a9aa2" stroke-width="0.5"/>
<line x1="324.4" y1="226.8" x2="326.4" y2="226.8" stroke="#9a9aa2" stroke-width="0.5"/>
<line x1="310.5" y1="229.2" x2="312.5" y2="229.2" stroke="#9a9aa2" stroke-width="0.5"/>
<line x1="324.4" y1="229.2" x2="326.4" y2="229.2" stroke="#9a9aa2" stroke-width="0.5"/>
<line x1="310.5" y1="231.6" x2="312.5" y2="231.6" stroke="#9a9aa2" stroke-width="0.5"/>
<line x1="324.4" y1="231.6" x2="326.4" y2="231.6" stroke="#9a9aa2" stroke-width="0.5"/>
<line x1="310.5" y1="234.0" x2="314.0" y2="234.0" stroke="#9a9aa2" stroke-width="0.5"/>
<line x1="322.9" y1="234.0" x2="326.4" y2="234.0" stroke="#9a9aa2" stroke-width="0.5"/>
<line x1="310.5" y1="236.4" x2="312.5" y2="236.4" stroke="#9a9aa2" stroke-width="0.5"/>
<line x1="324.4" y1="236.4" x2="326.4" y2="236.4" stroke="#9a9aa2" stroke-width="0.5"/>
<line x1="310.5" y1="238.8" x2="312.5" y2="238.8" stroke="#9a9aa2" stroke-width="0.5"/>
<line x1="324.4" y1="238.8" x2="326.4" y2="238.8" stroke="#9a9aa2" stroke-width="0.5"/>
<line x1="310.5" y1="241.2" x2="312.5" y2="241.2" stroke="#9a9aa2" stroke-width="0.5"/>
<line x1="324.4" y1="241.2" x2="326.4" y2="241.2" stroke="#9a9aa2" stroke-width="0.5"/>
<line x1="310.5" y1="243.6" x2="312.5" y2="243.6" stroke="#9a9aa2" stroke-width="0.5"/>
<line x1="324.4" y1="243.6" x2="326.4" y2="243.6" stroke="#9a9aa2" stroke-width="0.5"/>
<line x1="310.5" y1="246.0" x2="314.0" y2="246.0" stroke="#9a9aa2" stroke-width="0.5"/>
<line x1="322.9" y1="246.0" x2="326.4" y2="246.0" stroke="#9a9aa2" stroke-width="0.5"/>
<line x1="310.5" y1="248.4" x2="312.5" y2="248.4" stroke="#9a9aa2" stroke-width="0.5"/>
<line x1="324.4" y1="248.4" x2="326.4" y2="248.4" stroke="#9a9aa2" stroke-width="0.5"/>
<line x1="310.5" y1="250.8" x2="312.5" y2="250.8" stroke="#9a9aa2" stroke-width="0.5"/>
<line x1="324.4" y1="250.8" x2="326.4" y2="250.8" stroke="#9a9aa2" stroke-width="0.5"/>
<line x1="310.5" y1="253.2" x2="312.5" y2="253.2" stroke="#9a9aa2" stroke-width="0.5"/>
<line x1="324.4" y1="253.2" x2="326.4" y2="253.2" stroke="#9a9aa2" stroke-width="0.5"/>
<line x1="310.5" y1="255.6" x2="312.5" y2="255.6" stroke="#9a9aa2" stroke-width="0.5"/>
<line x1="324.4" y1="255.6" x2="326.4" y2="255.6" stroke="#9a9aa2" stroke-width="0.5"/>
<line x1="310.5" y1="258.0" x2="314.0" y2="258.0" stroke="#9a9aa2" stroke-width="0.5"/>
<line x1="322.9" y1="258.0" x2="326.4" y2="258.0" stroke="#9a9aa2" stroke-width="0.5"/>
<line x1="310.5" y1="260.4" x2="312.5" y2="260.4" stroke="#9a9aa2" stroke-width="0.5"/>
<line x1="324.4" y1="260.4" x2="326.4" y2="260.4" stroke="#9a9aa2" stroke-width="0.5"/>
<line x1="310.5" y1="262.8" x2="312.5" y2="262.8" stroke="#9a9aa2" stroke-width="0.5"/>
<line x1="324.4" y1="262.8" x2="326.4" y2="262.8" stroke="#9a9aa2" stroke-width="0.5"/>
<line x1="310.5" y1="265.2" x2="312.5" y2="265.2" stroke="#9a9aa2" stroke-width="0.5"/>
<line x1="324.4" y1="265.2" x2="326.4" y2="265.2" stroke="#9a9aa2" stroke-width="0.5"/>
<line x1="310.5" y1="267.6" x2="312.5" y2="267.6" stroke="#9a9aa2" stroke-width="0.5"/>
<line x1="324.4" y1="267.6" x2="326.4" y2="267.6" stroke="#9a9aa2" stroke-width="0.5"/>
<line x1="310.5" y1="270.0" x2="314.0" y2="270.0" stroke="#9a9aa2" stroke-width="0.5"/>
<line x1="322.9" y1="270.0" x2="326.4" y2="270.0" stroke="#9a9aa2" stroke-width="0.5"/>
<line x1="310.5" y1="272.4" x2="312.5" y2="272.4" stroke="#9a9aa2" stroke-width="0.5"/>
<line x1="324.4" y1="272.4" x2="326.4" y2="272.4" stroke="#9a9aa2" stroke-width="0.5"/>
<line x1="310.5" y1="274.8" x2="312.5" y2="274.8" stroke="#9a9aa2" stroke-width="0.5"/>
<line x1="324.4" y1="274.8" x2="326.4" y2="274.8" stroke="#9a9aa2" stroke-width="0.5"/>
<line x1="310.5" y1="277.2" x2="312.5" y2="277.2" stroke="#9a9aa2" stroke-width="0.5"/>
<line x1="324.4" y1="277.2" x2="326.4" y2="277.2" stroke="#9a9aa2" stroke-width="0.5"/>
<line x1="310.5" y1="279.6" x2="312.5" y2="279.6" stroke="#9a9aa2" stroke-width="0.5"/>
<line x1="324.4" y1="279.6" x2="326.4" y2="279.6" stroke="#9a9aa2" stroke-width="0.5"/>
<line x1="310.5" y1="282.0" x2="314.0" y2="282.0" stroke="#9a9aa2" stroke-width="0.5"/>
<line x1="322.9" y1="282.0" x2="326.4" y2="282.0" stroke="#9a9aa2" stroke-width="0.5"/>
<line x1="310.5" y1="284.4" x2="312.5" y2="284.4" stroke="#9a9aa2" stroke-width="0.5"/>
<line x1="324.4" y1="284.4" x2="326.4" y2="284.4" stroke="#9a9aa2" stroke-width="0.5"/>
<line x1="310.5" y1="286.8" x2="312.5" y2="286.8" stroke="#9a9aa2" stroke-width="0.5"/>
<line x1="324.4" y1="286.8" x2="326.4" y2="286.8" stroke="#9a9aa2" stroke-width="0.5"/>
<line x1="310.5" y1="289.2" x2="312.5" y2="289.2" stroke="#9a9aa2" stroke-width="0.5"/>
<line x1="324.4" y1="289.2" x2="326.4" y2="289.2" stroke="#9a9aa2" stroke-width="0.5"/>
<line x1="310.5" y1="291.6" x2="312.5" y2="291.6" stroke="#9a9aa2" stroke-width="0.5"/>
<line x1="324.4" y1="291.6" x2="326.4" y2="291.6" stroke="#9a9aa2" stroke-width="0.5"/>
<line x1="310.5" y1="294.0" x2="314.0" y2="294.0" stroke="#9a9aa2" stroke-width="0.5"/>
<line x1="322.9" y1="294.0" x2="326.4" y2="294.0" stroke="#9a9aa2" stroke-width="0.5"/>
<line x1="310.5" y1="296.4" x2="312.5" y2="296.4" stroke="#9a9aa2" stroke-width="0.5"/>
<line x1="324.4" y1="296.4" x2="326.4" y2="296.4" stroke="#9a9aa2" stroke-width="0.5"/>
<line x1="310.5" y1="298.8" x2="312.5" y2="298.8" stroke="#9a9aa2" stroke-width="0.5"/>
<line x1="324.4" y1="298.8" x2="326.4" y2="298.8" stroke="#9a9aa2" stroke-width="0.5"/>
<line x1="310.5" y1="301.2" x2="312.5" y2="301.2" stroke="#9a9aa2" stroke-width="0.5"/>
<line x1="324.4" y1="301.2" x2="326.4" y2="301.2" stroke="#9a9aa2" stroke-width="0.5"/>
<line x1="310.5" y1="303.6" x2="312.5" y2="303.6" stroke="#9a9aa2" stroke-width="0.5"/>
<line x1="324.4" y1="303.6" x2="326.4" y2="303.6" stroke="#9a9aa2" stroke-width="0.5"/>
<line x1="310.5" y1="306.0" x2="314.0" y2="306.0" stroke="#9a9aa2" stroke-width="0.5"/>
<line x1="322.9" y1="306.0" x2="326.4" y2="306.0" stroke="#9a9aa2" stroke-width="0.5"/>
<line x1="310.5" y1="308.4" x2="312.5" y2="308.4" stroke="#9a9aa2" stroke-width="0.5"/>
<line x1="324.4" y1="308.4" x2="326.4" y2="308.4" stroke="#9a9aa2" stroke-width="0.5"/>
<line x1="310.5" y1="310.8" x2="312.5" y2="310.8" stroke="#9a9aa2" stroke-width="0.5"/>
<line x1="324.4" y1="310.8" x2="326.4" y2="310.8" stroke="#9a9aa2" stroke-width="0.5"/>
<circle cx="314.6" cy="201.0" r="0.9" fill="#707078"/>
<circle cx="321.6" cy="206.0" r="0.9" fill="#707078"/>
<line x1="317.8" y1="202.0" x2="317.8" y2="207.0" stroke="#8a8a92" stroke-width="1.0"/>
<circle cx="314.6" cy="212.6" r="0.9" fill="#707078"/>
<circle cx="321.6" cy="217.6" r="0.9" fill="#707078"/>
<line x1="317.8" y1="213.6" x2="317.8" y2="218.6" stroke="#8a8a92" stroke-width="1.0"/>
<circle cx="314.6" cy="224.2" r="0.9" fill="#707078"/>
<circle cx="321.6" cy="229.2" r="0.9" fill="#707078"/>
<line x1="317.8" y1="225.2" x2="317.8" y2="230.2" stroke="#8a8a92" stroke-width="1.0"/>
<circle cx="314.6" cy="235.8" r="0.9" fill="#707078"/>
<circle cx="321.6" cy="240.8" r="0.9" fill="#707078"/>
<line x1="317.8" y1="236.8" x2="317.8" y2="241.8" stroke="#8a8a92" stroke-width="1.0"/>
<circle cx="314.6" cy="247.4" r="0.9" fill="#707078"/>
<circle cx="321.6" cy="252.4" r="0.9" fill="#707078"/>
<line x1="317.8" y1="248.4" x2="317.8" y2="253.4" stroke="#8a8a92" stroke-width="1.0"/>
<circle cx="314.6" cy="259.0" r="0.9" fill="#707078"/>
<circle cx="321.6" cy="264.0" r="0.9" fill="#707078"/>
<line x1="317.8" y1="260.0" x2="317.8" y2="265.0" stroke="#8a8a92" stroke-width="1.0"/>
<circle cx="314.6" cy="270.6" r="0.9" fill="#707078"/>
<circle cx="321.6" cy="275.6" r="0.9" fill="#707078"/>
<line x1="317.8" y1="271.6" x2="317.8" y2="276.6" stroke="#8a8a92" stroke-width="1.0"/>
<circle cx="314.6" cy="282.2" r="0.9" fill="#707078"/>
<circle cx="321.6" cy="287.2" r="0.9" fill="#707078"/>
<line x1="317.8" y1="283.2" x2="317.8" y2="288.2" stroke="#8a8a92" stroke-width="1.0"/>
<circle cx="314.6" cy="293.8" r="0.9" fill="#707078"/>
<circle cx="321.6" cy="298.8" r="0.9" fill="#707078"/>
<line x1="317.8" y1="294.8" x2="317.8" y2="299.8" stroke="#8a8a92" stroke-width="1.0"/>
<circle cx="314.6" cy="305.4" r="0.9" fill="#707078"/>
<circle cx="321.6" cy="310.4" r="0.9" fill="#707078"/>
<line x1="317.8" y1="306.4" x2="317.8" y2="311.4" stroke="#8a8a92" stroke-width="1.0"/>
<ellipse cx="334.5" cy="204.4" rx="4.9" ry="4.9" fill="#e6c4bc" filter="url(#b05)"/>
<ellipse cx="334.5" cy="204.4" rx="3.6" ry="3.6" fill="#c08a7c" filter="url(#b05)"/>
<ellipse cx="333.9" cy="204.0" rx="2.0" ry="2.0" fill="#e0a49c" opacity="0.55" filter="url(#b05)"/>
<ellipse cx="333.5" cy="217" rx="5.8999999999999995" ry="5.7" fill="#e6c4bc" filter="url(#b05)"/>
<ellipse cx="333.5" cy="217" rx="4.6" ry="4.4" fill="#c05656" filter="url(#b05)"/>
<ellipse cx="332.9" cy="216.6" rx="2.5" ry="2.4" fill="#e0a49c" opacity="0.55" filter="url(#b05)"/>
<ellipse cx="336" cy="231.7" rx="5.5" ry="5.8999999999999995" fill="#e6c4bc" filter="url(#b05)"/>
<ellipse cx="336" cy="231.7" rx="4.2" ry="4.6" fill="#c07466" filter="url(#b05)"/>
<ellipse cx="335.4" cy="231.29999999999998" rx="2.3" ry="2.5" fill="#e0a49c" opacity="0.55" filter="url(#b05)"/>
<ellipse cx="337" cy="243.8" rx="6.5" ry="5.8999999999999995" fill="#e6c4bc" filter="url(#b05)"/>
<ellipse cx="337" cy="243.8" rx="5.2" ry="4.6" fill="#c46c60" filter="url(#b05)"/>
<ellipse cx="336.4" cy="243.4" rx="2.9" ry="2.5" fill="#e0a49c" opacity="0.55" filter="url(#b05)"/>
<ellipse cx="338.1" cy="259.9" rx="5.3" ry="5.1" fill="#e6c4bc" filter="url(#b05)"/>
<ellipse cx="338.1" cy="259.9" rx="4" ry="3.8" fill="#c47266" filter="url(#b05)"/>
<ellipse cx="337.5" cy="259.5" rx="2.2" ry="2.1" fill="#e0a49c" opacity="0.55" filter="url(#b05)"/>
<ellipse cx="338.5" cy="275.1" rx="5.7" ry="5.5" fill="#e6c4bc" filter="url(#b05)"/>
<ellipse cx="338.5" cy="275.1" rx="4.4" ry="4.2" fill="#c47668" filter="url(#b05)"/>
<ellipse cx="337.9" cy="274.70000000000005" rx="2.4" ry="2.3" fill="#e0a49c" opacity="0.55" filter="url(#b05)"/>
<ellipse cx="339" cy="288.6" rx="5.8999999999999995" ry="5.6" fill="#e6c4bc" filter="url(#b05)"/>
<ellipse cx="339" cy="288.6" rx="4.6" ry="4.3" fill="#c4786c" filter="url(#b05)"/>
<ellipse cx="338.4" cy="288.20000000000005" rx="2.5" ry="2.4" fill="#e0a49c" opacity="0.55" filter="url(#b05)"/>
<ellipse cx="338.8" cy="304.5" rx="8.5" ry="7.5" fill="#e6c4bc" filter="url(#b05)"/>
<ellipse cx="338.8" cy="304.5" rx="7.2" ry="6.2" fill="#c47468" filter="url(#b05)"/>
<ellipse cx="338.2" cy="304.1" rx="4.0" ry="3.4" fill="#e0a49c" opacity="0.55" filter="url(#b05)"/>
<ellipse cx="357.6" cy="202.8" rx="2.3" ry="2.3" fill="#9a7270" filter="url(#b05)"/>
<ellipse cx="357.3" cy="212" rx="2" ry="2" fill="#a08070" filter="url(#b05)"/>
<ellipse cx="357" cy="228.5" rx="1.8" ry="1.8" fill="#a09090" filter="url(#b05)"/>
<ellipse cx="357" cy="240.6" rx="1.5" ry="1.3" fill="#b0a496" filter="url(#b05)"/>
<ellipse cx="358.1" cy="255.8" rx="2.4" ry="2.4" fill="#c4a89c" filter="url(#b05)"/>
<ellipse cx="356.3" cy="272.4" rx="6.3" ry="5.3" fill="#e6c4bc" filter="url(#b05)"/>
<ellipse cx="356.3" cy="272.4" rx="5" ry="4" fill="#c0705e" filter="url(#b05)"/>
<ellipse cx="355.7" cy="272.0" rx="2.8" ry="2.2" fill="#e0a49c" opacity="0.55" filter="url(#b05)"/>
<ellipse cx="357.7" cy="288" rx="6.3" ry="5.3" fill="#e6c4bc" filter="url(#b05)"/>
<ellipse cx="357.7" cy="288" rx="5" ry="4" fill="#c07464" filter="url(#b05)"/>
<ellipse cx="357.09999999999997" cy="287.6" rx="2.8" ry="2.2" fill="#e0a49c" opacity="0.55" filter="url(#b05)"/>
<ellipse cx="358.5" cy="303.1" rx="6.8" ry="6.3" fill="#e6c4bc" filter="url(#b05)"/>
<ellipse cx="358.5" cy="303.1" rx="5.5" ry="5" fill="#c06e5e" filter="url(#b05)"/>
<ellipse cx="357.9" cy="302.70000000000005" rx="3.0" ry="2.8" fill="#e0a49c" opacity="0.55" filter="url(#b05)"/>
</g>
<text x="322.8" y="263.3" font-size="8.6" font-weight="bold" text-anchor="start" fill="#111" stroke="#111" stroke-width="0.5">#3</text>
<text x="322.8" y="279.4" font-size="8.6" font-weight="bold" text-anchor="start" fill="#111" stroke="#111" stroke-width="0.5">#2</text>
<text x="322.8" y="293.6" font-size="8.6" font-weight="bold" text-anchor="start" fill="#111" stroke="#111" stroke-width="0.5">#1</text>
<text x="344.8" y="320.2" font-size="8.2" font-weight="bold" text-anchor="end" fill="#111" stroke="#111" stroke-width="0.5" transform="rotate(-46 344.8 320.2)">shGFP</text>
<text x="364.8" y="317.6" font-size="8.2" font-weight="bold" text-anchor="end" fill="#111" stroke="#111" stroke-width="0.5" transform="rotate(-48 364.8 317.6)">shJunB</text>
<text x="370.5" y="325.2" font-size="8.2" font-weight="bold" text-anchor="end" fill="#111" stroke="#111" stroke-width="0.5" transform="rotate(-48 370.5 325.2)">+cJun</text>
<text x="370.2" y="274.2" font-size="8.8" font-weight="bold" text-anchor="start" fill="#111" stroke="#111" stroke-width="0.5">#3</text>
<text x="370.2" y="291.7" font-size="8.8" font-weight="bold" text-anchor="start" fill="#111" stroke="#111" stroke-width="0.5">#2</text>
<text x="370.2" y="309.3" font-size="8.8" font-weight="bold" text-anchor="start" fill="#111" stroke="#111" stroke-width="0.5">#1</text>
<path d="M383.3 264.7 L386.1 264.7 L386.1 307.1 L383.3 307.1 M386.1 286.4 L388.2 286.4" stroke="#3c4650" stroke-width="1" fill="none"/>
<line x1="392.2" y1="296.4" x2="409.0" y2="296.4" stroke="#5a5a5a" stroke-width="2.4"/>
<path d="M407.5 293.3 L412 296.4 L407.5 299.5 Z" fill="#5a5a5a"/>
<text x="412.3" y="198.6" font-size="9.5" font-weight="bold" text-anchor="start" fill="#111" stroke="#111" stroke-width="0.5">CD20<tspan font-size="6" dy="-3.5">+</tspan><tspan dy="3.5"> cells in BM</tspan></text>
<path d="M427.6 288.0 L429.6 288.0 L444.8 282.0 L500 285.8" stroke="#999" stroke-width="0.8" fill="none"/>
<text x="424.0" y="290.7" font-size="7.5" font-weight="normal" text-anchor="end" fill="#111" stroke="#111" stroke-width="0.25">0</text>
<path d="M427.6 272.2 L429.6 272.2 L444.8 266.2 L500 270.0" stroke="#999" stroke-width="0.8" fill="none"/>
<text x="424.0" y="274.9" font-size="7.5" font-weight="normal" text-anchor="end" fill="#111" stroke="#111" stroke-width="0.25">1000</text>
<path d="M427.6 256.4 L429.6 256.4 L444.8 250.4 L500 254.2" stroke="#999" stroke-width="0.8" fill="none"/>
<text x="424.0" y="259.1" font-size="7.5" font-weight="normal" text-anchor="end" fill="#111" stroke="#111" stroke-width="0.25">2000</text>
<path d="M427.6 240.6 L429.6 240.6 L444.8 234.6 L500 238.4" stroke="#999" stroke-width="0.8" fill="none"/>
<text x="424.0" y="243.3" font-size="7.5" font-weight="normal" text-anchor="end" fill="#111" stroke="#111" stroke-width="0.25">3000</text>
<path d="M427.6 224.8 L429.6 224.8 L444.8 218.8 L500 222.6" stroke="#999" stroke-width="0.8" fill="none"/>
<text x="424.0" y="227.5" font-size="7.5" font-weight="normal" text-anchor="end" fill="#111" stroke="#111" stroke-width="0.25">4000</text>
<path d="M427.6 209.0 L429.6 209.0 L444.8 203.0 L500 206.8" stroke="#999" stroke-width="0.8" fill="none"/>
<text x="424.0" y="211.7" font-size="7.5" font-weight="normal" text-anchor="end" fill="#111" stroke="#111" stroke-width="0.25">5000</text>
<line x1="429.6" y1="209.0" x2="429.6" y2="288.0" stroke="#888" stroke-width="0.9"/>
<line x1="444.8" y1="203.0" x2="444.8" y2="282.0" stroke="#aaa" stroke-width="0.8"/>
<path d="M429.6 288.0 L444.8 282.0 L500 285.8 L482 294.0 Z" fill="none" stroke="#aaa" stroke-width="0.8"/>
<text x="402.6" y="238.3" font-size="8.6" font-weight="bold" text-anchor="middle" fill="#111" stroke="#111" stroke-width="0.5" transform="rotate(-90 402.6 238.3)">Relative intensity</text>
<path d="M455.1 250.3 L457.9 247.5 L457.9 279.1 L455.1 281.9 Z" fill="#0a108a" stroke="#101060" stroke-width="0.6"/>
<path d="M448.6 250.3 L451.4 247.5 L457.9 247.5 L455.1 250.3 Z" fill="#1a22a8" stroke="#101060" stroke-width="0.6"/>
<rect x="448.6" y="250.3" width="6.5" height="31.6" fill="#1a22c8" stroke="#101060" stroke-width="0.7"/>
<path d="M473.3 264.6 L476.1 261.8 L476.1 281.6 L473.3 284.4 Z" fill="#0a108a" stroke="#101060" stroke-width="0.6"/>
<path d="M467.3 264.6 L470.1 261.8 L476.1 261.8 L473.3 264.6 Z" fill="#1a22a8" stroke="#101060" stroke-width="0.6"/>
<rect x="467.3" y="264.6" width="6.0" height="19.8" fill="#1a22c8" stroke="#101060" stroke-width="0.7"/>
<path d="M492.0 269.8 L494.8 267.0 L494.8 284.0 L492.0 286.8 Z" fill="#0a108a" stroke="#101060" stroke-width="0.6"/>
<path d="M486.0 269.8 L488.8 267.0 L494.8 267.0 L492.0 269.8 Z" fill="#1a22a8" stroke="#101060" stroke-width="0.6"/>
<rect x="486.0" y="269.8" width="6.0" height="17.0" fill="#1a22c8" stroke="#101060" stroke-width="0.7"/>
<path d="M445.6 221.7 L448.4 218.9 L448.4 285.0 L445.6 287.8 Z" fill="#9a9a9a" stroke="#555" stroke-width="0.6"/>
<path d="M438.6 221.7 L441.4 218.9 L448.4 218.9 L445.6 221.7 Z" fill="#cfcfcf" stroke="#555" stroke-width="0.6"/>
<rect x="438.6" y="221.7" width="7.0" height="66.1" fill="#ffffff" stroke="#555" stroke-width="0.7"/>
<path d="M464.4 229.6 L467.2 226.8 L467.2 287.9 L464.4 290.7 Z" fill="#9a9a9a" stroke="#555" stroke-width="0.6"/>
<path d="M456.5 229.6 L459.3 226.8 L467.2 226.8 L464.4 229.6 Z" fill="#cfcfcf" stroke="#555" stroke-width="0.6"/>
<rect x="456.5" y="229.6" width="7.9" height="61.1" fill="#ffffff" stroke="#555" stroke-width="0.7"/>
<path d="M483.1 216.2 L485.9 213.4 L485.9 289.5 L483.1 292.3 Z" fill="#9a9a9a" stroke="#555" stroke-width="0.6"/>
<path d="M475.2 216.2 L478.0 213.4 L485.9 213.4 L483.1 216.2 Z" fill="#cfcfcf" stroke="#555" stroke-width="0.6"/>
<rect x="475.2" y="216.2" width="7.9" height="76.1" fill="#ffffff" stroke="#555" stroke-width="0.7"/>
<text x="446.0" y="301.0" font-size="8.5" font-weight="bold" text-anchor="middle" fill="#111" stroke="#111" stroke-width="0.5">#1</text>
<text x="462.2" y="301.0" font-size="8.5" font-weight="bold" text-anchor="middle" fill="#111" stroke="#111" stroke-width="0.5">#2</text>
<text x="479.6" y="301.0" font-size="8.5" font-weight="bold" text-anchor="middle" fill="#111" stroke="#111" stroke-width="0.5">#3</text>
<rect x="420.6" y="312.3" width="4.6" height="4.6" fill="#fff" stroke="#333" stroke-width="0.8"/>
<text x="427.2" y="317.8" font-size="9.1" font-weight="bold" text-anchor="start" fill="#111" stroke="#111" stroke-width="0.5">shGFP</text>
<rect x="462.0" y="312.3" width="4.6" height="4.6" fill="#1418a8" stroke="#101060" stroke-width="0.8"/>
<text x="468.6" y="317.8" font-size="9.1" font-weight="bold" text-anchor="start" fill="#111" stroke="#111" stroke-width="0.5">shJun</text>
<text x="0.0" y="358.3" font-size="10.8" font-weight="bold" text-anchor="start" fill="#111" stroke="#111" stroke-width="0.5">E</text>
<text x="-0.5" y="369.5" font-size="9.36" font-weight="bold" text-anchor="start" fill="#111" stroke="#111" stroke-width="0.5">In vitro invasion assay</text>
<text x="49.0" y="382.0" font-size="9.2" font-weight="bold" text-anchor="middle" fill="#111" stroke="#111" stroke-width="0.5">(parental cells)</text>
<line x1="43.0" y1="393.8" x2="43.0" y2="469.5" stroke="#111" stroke-width="1.25"/>
<line x1="43.0" y1="469.5" x2="94.0" y2="469.5" stroke="#111" stroke-width="1.25"/>
<line x1="41.0" y1="469.5" x2="43.0" y2="469.5" stroke="#111" stroke-width="1.25"/>
<text x="40.8" y="471.2" font-size="5.0" font-weight="normal" text-anchor="end" fill="#111" stroke="#111" stroke-width="0.25">0</text>
<line x1="41.0" y1="444.3" x2="43.0" y2="444.3" stroke="#111" stroke-width="1.25"/>
<text x="40.8" y="446.0" font-size="5.0" font-weight="normal" text-anchor="end" fill="#111" stroke="#111" stroke-width="0.25">10000</text>
<line x1="41.0" y1="419.0" x2="43.0" y2="419.0" stroke="#111" stroke-width="1.25"/>
<text x="40.8" y="420.7" font-size="5.0" font-weight="normal" text-anchor="end" fill="#111" stroke="#111" stroke-width="0.25">20000</text>
<line x1="41.0" y1="393.8" x2="43.0" y2="393.8" stroke="#111" stroke-width="1.25"/>
<text x="40.8" y="395.5" font-size="5.0" font-weight="normal" text-anchor="end" fill="#111" stroke="#111" stroke-width="0.25">30000</text>
<line x1="56.2" y1="405.2" x2="56.2" y2="401.1" stroke="#111" stroke-width="1"/>
<line x1="52.0" y1="401.1" x2="60.4" y2="401.1" stroke="#111" stroke-width="1"/>
<rect x="47.8" y="405.2" width="16.8" height="64.3" fill="#fff" stroke="#111" stroke-width="1"/>
<rect x="72.7" y="455.6" width="17.0" height="13.9" fill="#2a2cf0" stroke="#1a1aa0" stroke-width="0.8"/>
<line x1="72.7" y1="455.2" x2="89.7" y2="455.2" stroke="#111" stroke-width="1"/>
<line x1="56.2" y1="469.5" x2="56.2" y2="472.0" stroke="#111" stroke-width="1.25"/>
<line x1="81.2" y1="469.5" x2="81.2" y2="472.0" stroke="#111" stroke-width="1.25"/>
<text x="19.6" y="430.8" font-size="9.3" font-weight="bold" text-anchor="middle" fill="#111" stroke="#111" stroke-width="0.5" transform="rotate(-90 19.6 430.8)">cell number</text>
<text x="58.5" y="476.5" font-size="7.9" font-weight="bold" text-anchor="end" fill="#111" stroke="#111" stroke-width="0.5" transform="rotate(-50 58.5 476.5)">shGFP</text>
<text x="81.6" y="476.0" font-size="7.7" font-weight="bold" text-anchor="end" fill="#111" stroke="#111" stroke-width="0.5" transform="rotate(-50 81.6 476.0)">shJunB+</text>
<text x="85.2" y="486.0" font-size="7.9" font-weight="bold" text-anchor="end" fill="#111" stroke="#111" stroke-width="0.5" transform="rotate(-50 85.2 486.0)">cJun</text>
<text x="118.2" y="358.3" font-size="10.8" font-weight="bold" text-anchor="start" fill="#111" stroke="#111" stroke-width="0.5">F</text>
<text x="136.4" y="372.0" font-size="9.27" font-weight="bold" text-anchor="start" fill="#111" stroke="#111" stroke-width="0.5">Bone marrow infiltration</text>
<line x1="177.4" y1="386.2" x2="177.4" y2="466.2" stroke="#111" stroke-width="1.25"/>
<line x1="177.4" y1="466.2" x2="224.0" y2="466.2" stroke="#111" stroke-width="1.25"/>
<line x1="175.4" y1="466.2" x2="177.4" y2="466.2" stroke="#111" stroke-width="1.25"/>
<text x="175.2" y="467.9" font-size="5.0" font-weight="normal" text-anchor="end" fill="#111" stroke="#111" stroke-width="0.25">0</text>
<line x1="175.4" y1="439.5" x2="177.4" y2="439.5" stroke="#111" stroke-width="1.25"/>
<text x="175.2" y="441.2" font-size="5.0" font-weight="normal" text-anchor="end" fill="#111" stroke="#111" stroke-width="0.25">50</text>
<line x1="175.4" y1="412.9" x2="177.4" y2="412.9" stroke="#111" stroke-width="1.25"/>
<text x="175.2" y="414.6" font-size="5.0" font-weight="normal" text-anchor="end" fill="#111" stroke="#111" stroke-width="0.25">100</text>
<line x1="175.4" y1="386.2" x2="177.4" y2="386.2" stroke="#111" stroke-width="1.25"/>
<text x="175.2" y="387.9" font-size="5.0" font-weight="normal" text-anchor="end" fill="#111" stroke="#111" stroke-width="0.25">150</text>
<rect x="180.9" y="408.3" width="15.8" height="57.9" fill="#fff" stroke="#111" stroke-width="1"/>
<line x1="180.9" y1="407.8" x2="196.7" y2="407.8" stroke="#111" stroke-width="1"/>
<line x1="212.0" y1="437.9" x2="212.0" y2="435.5" stroke="#111" stroke-width="1"/>
<line x1="209.0" y1="435.5" x2="215.0" y2="435.5" stroke="#111" stroke-width="1"/>
<rect x="204.8" y="437.9" width="14.4" height="28.3" fill="#3a44e4" stroke="#15158a" stroke-width="0.9"/>
<line x1="188.5" y1="466.2" x2="188.5" y2="468.7" stroke="#111" stroke-width="1.25"/>
<line x1="212.3" y1="466.2" x2="212.3" y2="468.7" stroke="#111" stroke-width="1.25"/>
<text x="152.6" y="441.3" font-size="8.0" font-weight="bold" text-anchor="middle" fill="#111" stroke="#111" stroke-width="0.5" transform="rotate(-90 152.6 441.3)">cell number</text>
<text x="164.5" y="435.5" font-size="8.0" font-weight="bold" text-anchor="middle" fill="#111" stroke="#111" stroke-width="0.5" transform="rotate(-90 164.5 435.5)">(per 5x10<tspan font-size="5" dy="-3">4</tspan><tspan dy="3"> bone marrow cells)</tspan></text>
<text x="189.4" y="476.7" font-size="7.9" font-weight="bold" text-anchor="end" fill="#111" stroke="#111" stroke-width="0.5" transform="rotate(-48 189.4 476.7)">shGFP</text>
<text x="210.8" y="474.6" font-size="7.9" font-weight="bold" text-anchor="end" fill="#111" stroke="#111" stroke-width="0.5" transform="rotate(-48 210.8 474.6)">shJunB+</text>
<text x="211.6" y="485.7" font-size="7.9" font-weight="bold" text-anchor="end" fill="#111" stroke="#111" stroke-width="0.5" transform="rotate(-48 211.6 485.7)">cJun</text>
<text x="270.0" y="358.7" font-size="12.2" font-weight="bold" text-anchor="start" fill="#111" stroke="#111" stroke-width="0.5">G</text>
<text x="297.1" y="370.7" font-size="9.38" font-weight="bold" text-anchor="start" fill="#111" stroke="#111" stroke-width="0.5">Adhesion to the bone marrow stromal cells</text>
<text x="370.6" y="384.3" font-size="8.5" font-weight="bold" text-anchor="start" fill="#2ea02e" stroke="#2ea02e" stroke-width="0.5">OCI-Ly3 cells</text>
<text x="464.6" y="384.3" font-size="8.5" font-weight="bold" text-anchor="start" fill="#111" stroke="#111" stroke-width="0.5">merged</text>
<text x="277.2" y="415.5" font-size="8.5" font-weight="bold" text-anchor="middle" fill="#111" stroke="#111" stroke-width="0.5" transform="rotate(-90 277.2 415.5)">shGFP</text>
<text x="277.2" y="477.5" font-size="8.5" font-weight="bold" text-anchor="middle" fill="#111" stroke="#111" stroke-width="0.5" transform="rotate(-90 277.2 477.5)">shJunB/cJun</text>
<rect x="284.3" y="388.6" width="75.4" height="57.0" fill="#a2a2a2" stroke="none" stroke-width="1"/>
<rect x="284.3" y="388.6" width="75.4" height="57.0" fill="#747474" filter="url(#spkG1)"/>
<rect x="284.3" y="388.6" width="75.4" height="57.0" fill="#d2d2d2" filter="url(#spkG2)"/>
<rect x="284.3" y="448.5" width="75.4" height="60.0" fill="#a0a0a0" stroke="none" stroke-width="1"/>
<rect x="284.3" y="448.5" width="75.4" height="60" fill="#8a8a8a" filter="url(#spkG2)"/>
<rect x="284.3" y="448.5" width="75.4" height="60" fill="#c8c8c8" filter="url(#spkG3)" opacity="0.6"/>
<g fill="#d8d8d8"><circle cx="308.9" cy="457.3" r="0.61"/><circle cx="289.8" cy="479.8" r="0.51"/><circle cx="288.7" cy="478.2" r="0.40"/><circle cx="317.3" cy="452.6" r="0.42"/><circle cx="316.6" cy="496.9" r="0.43"/><circle cx="301.3" cy="485.2" r="0.72"/><circle cx="328.2" cy="471.7" r="0.73"/><circle cx="287.8" cy="498.7" r="0.49"/><circle cx="295.3" cy="455.4" r="0.49"/><circle cx="346.3" cy="459.1" r="0.59"/><circle cx="289.1" cy="452.0" r="0.46"/><circle cx="328.8" cy="475.0" r="0.49"/><circle cx="328.0" cy="479.2" r="0.69"/><circle cx="339.7" cy="465.3" r="0.43"/><circle cx="316.1" cy="492.8" r="0.44"/><circle cx="321.5" cy="450.8" r="0.62"/><circle cx="342.4" cy="482.0" r="0.49"/><circle cx="319.0" cy="497.6" r="0.72"/><circle cx="320.3" cy="487.4" r="0.41"/><circle cx="337.6" cy="486.4" r="0.67"/><circle cx="305.9" cy="471.1" r="0.62"/><circle cx="286.0" cy="475.5" r="0.44"/><circle cx="293.2" cy="451.9" r="0.65"/><circle cx="294.1" cy="463.0" r="0.52"/><circle cx="350.5" cy="453.2" r="0.54"/><circle cx="326.1" cy="500.2" r="0.67"/><circle cx="350.0" cy="464.8" r="0.53"/><circle cx="311.6" cy="500.2" r="0.72"/><circle cx="295.8" cy="458.8" r="0.47"/><circle cx="302.0" cy="476.9" r="0.59"/><circle cx="304.3" cy="448.7" r="0.53"/><circle cx="312.4" cy="481.6" r="0.72"/><circle cx="336.8" cy="478.7" r="0.62"/><circle cx="288.4" cy="501.1" r="0.66"/><circle cx="350.8" cy="495.2" r="0.52"/><circle cx="314.6" cy="454.6" r="0.61"/><circle cx="289.0" cy="452.4" r="0.46"/><circle cx="296.6" cy="468.4" r="0.40"/><circle cx="284.3" cy="457.3" r="0.42"/><circle cx="311.9" cy="450.0" r="0.69"/><circle cx="331.0" cy="457.2" r="0.47"/><circle cx="310.7" cy="469.8" r="0.43"/><circle cx="348.8" cy="506.6" r="0.55"/><circle cx="321.1" cy="453.5" r="0.42"/><circle cx="310.3" cy="464.0" r="0.68"/><circle cx="296.6" cy="449.9" r="0.72"/><circle cx="324.4" cy="457.1" r="0.58"/><circle cx="286.4" cy="479.4" r="0.73"/><circle cx="349.9" cy="489.2" r="0.48"/><circle cx="312.2" cy="458.3" r="0.66"/><circle cx="324.8" cy="494.1" r="0.50"/><circle cx="301.3" cy="496.0" r="0.73"/><circle cx="349.1" cy="495.7" r="0.67"/><circle cx="311.3" cy="450.2" r="0.39"/><circle cx="305.5" cy="463.7" r="0.63"/><circle cx="357.0" cy="474.7" r="0.71"/><circle cx="359.4" cy="504.4" r="0.51"/><circle cx="301.1" cy="461.8" r="0.45"/><circle cx="299.8" cy="485.0" r="0.70"/><circle cx="348.2" cy="476.5" r="0.61"/><circle cx="345.1" cy="453.5" r="0.70"/><circle cx="297.9" cy="494.7" r="0.50"/><circle cx="314.8" cy="503.9" r="0.64"/><circle cx="297.2" cy="455.9" r="0.44"/><circle cx="353.1" cy="495.7" r="0.44"/><circle cx="347.1" cy="505.8" r="0.62"/><circle cx="310.9" cy="480.6" r="0.43"/><circle cx="285.4" cy="505.3" r="0.61"/><circle cx="324.3" cy="503.1" r="0.54"/><circle cx="350.6" cy="496.8" r="0.46"/><circle cx="303.4" cy="465.6" r="0.47"/><circle cx="328.9" cy="463.7" r="0.53"/><circle cx="294.3" cy="501.7" r="0.51"/><circle cx="319.1" cy="482.6" r="0.70"/><circle cx="316.3" cy="502.2" r="0.56"/><circle cx="324.7" cy="479.1" r="0.39"/><circle cx="317.7" cy="459.2" r="0.39"/><circle cx="323.7" cy="481.0" r="0.66"/><circle cx="292.4" cy="481.3" r="0.47"/><circle cx="305.3" cy="493.7" r="0.56"/><circle cx="327.0" cy="493.0" r="0.70"/><circle cx="318.0" cy="484.3" r="0.56"/><circle cx="323.2" cy="489.0" r="0.54"/><circle cx="324.8" cy="476.5" r="0.71"/><circle cx="337.4" cy="499.8" r="0.48"/><circle cx="326.8" cy="503.7" r="0.68"/><circle cx="294.7" cy="455.6" r="0.54"/><circle cx="289.8" cy="462.6" r="0.41"/><circle cx="335.2" cy="494.4" r="0.44"/><circle cx="351.4" cy="505.1" r="0.46"/><circle cx="356.7" cy="471.8" r="0.56"/><circle cx="359.5" cy="497.2" r="0.44"/><circle cx="317.1" cy="478.7" r="0.50"/><circle cx="299.2" cy="467.1" r="0.64"/><circle cx="285.8" cy="480.9" r="0.54"/><circle cx="285.7" cy="467.9" r="0.60"/><circle cx="323.2" cy="452.3" r="0.73"/><circle cx="304.5" cy="450.8" r="0.66"/><circle cx="304.9" cy="456.1" r="0.53"/><circle cx="353.6" cy="496.4" r="0.48"/><circle cx="295.7" cy="502.3" r="0.58"/><circle cx="355.6" cy="485.6" r="0.67"/><circle cx="290.7" cy="498.6" r="0.41"/><circle cx="349.9" cy="475.0" r="0.50"/><circle cx="326.3" cy="502.7" r="0.48"/><circle cx="294.1" cy="479.3" r="0.47"/><circle cx="292.6" cy="457.9" r="0.40"/><circle cx="299.6" cy="466.8" r="0.49"/><circle cx="297.8" cy="468.8" r="0.39"/><circle cx="303.3" cy="449.4" r="0.64"/><circle cx="326.2" cy="459.6" r="0.55"/><circle cx="355.3" cy="454.7" r="0.67"/><circle cx="317.1" cy="477.5" r="0.68"/><circle cx="314.2" cy="478.1" r="0.63"/><circle cx="359.0" cy="468.5" r="0.68"/><circle cx="310.7" cy="451.7" r="0.43"/><circle cx="289.7" cy="491.8" r="0.47"/><circle cx="296.7" cy="453.4" r="0.68"/><circle cx="350.5" cy="487.7" r="0.48"/><circle cx="302.7" cy="465.6" r="0.55"/><circle cx="296.3" cy="474.6" r="0.48"/><circle cx="357.4" cy="505.4" r="0.58"/><circle cx="302.9" cy="505.0" r="0.49"/><circle cx="311.4" cy="448.6" r="0.52"/><circle cx="320.4" cy="477.9" r="0.46"/><circle cx="322.7" cy="448.8" r="0.48"/><circle cx="291.1" cy="471.9" r="0.40"/><circle cx="286.0" cy="466.3" r="0.47"/><circle cx="328.8" cy="479.5" r="0.65"/><circle cx="334.3" cy="490.4" r="0.52"/><circle cx="309.1" cy="506.1" r="0.44"/><circle cx="347.8" cy="500.7" r="0.60"/><circle cx="324.1" cy="478.0" r="0.68"/><circle cx="352.2" cy="488.4" r="0.63"/><circle cx="301.8" cy="450.3" r="0.43"/><circle cx="311.7" cy="454.6" r="0.68"/><circle cx="326.7" cy="485.2" r="0.60"/><circle cx="325.0" cy="487.1" r="0.41"/><circle cx="304.5" cy="491.2" r="0.46"/><circle cx="313.4" cy="476.5" r="0.62"/><circle cx="342.6" cy="484.6" r="0.41"/><circle cx="295.5" cy="463.4" r="0.65"/><circle cx="307.4" cy="481.7" r="0.39"/><circle cx="288.9" cy="464.2" r="0.62"/><circle cx="323.6" cy="475.7" r="0.55"/><circle cx="293.3" cy="500.8" r="0.45"/><circle cx="358.6" cy="503.3" r="0.39"/><circle cx="319.2" cy="496.5" r="0.72"/><circle cx="318.5" cy="464.2" r="0.46"/><circle cx="356.2" cy="460.8" r="0.59"/><circle cx="295.1" cy="479.2" r="0.72"/><circle cx="294.4" cy="496.5" r="0.56"/><circle cx="351.7" cy="489.6" r="0.47"/><circle cx="352.5" cy="476.9" r="0.39"/><circle cx="284.6" cy="477.3" r="0.54"/><circle cx="307.2" cy="456.7" r="0.51"/><circle cx="308.3" cy="497.7" r="0.39"/><circle cx="354.7" cy="490.2" r="0.70"/><circle cx="306.3" cy="470.3" r="0.52"/><circle cx="360.2" cy="483.0" r="0.51"/><circle cx="316.8" cy="464.6" r="0.40"/><circle cx="292.0" cy="497.3" r="0.48"/><circle cx="355.4" cy="463.1" r="0.48"/><circle cx="323.1" cy="459.6" r="0.52"/><circle cx="357.0" cy="500.2" r="0.67"/><circle cx="332.2" cy="501.9" r="0.71"/><circle cx="326.0" cy="490.6" r="0.40"/><circle cx="340.0" cy="474.9" r="0.61"/><circle cx="306.1" cy="451.4" r="0.71"/><circle cx="294.0" cy="476.1" r="0.51"/><circle cx="306.9" cy="491.7" r="0.73"/><circle cx="304.1" cy="486.9" r="0.49"/><circle cx="326.7" cy="471.6" r="0.44"/><circle cx="296.6" cy="460.7" r="0.70"/><circle cx="322.1" cy="461.4" r="0.70"/><circle cx="360.0" cy="474.8" r="0.43"/><circle cx="298.9" cy="453.8" r="0.50"/><circle cx="291.2" cy="462.5" r="0.48"/><circle cx="327.6" cy="500.4" r="0.65"/><circle cx="315.7" cy="472.7" r="0.57"/><circle cx="312.9" cy="468.3" r="0.41"/><circle cx="305.4" cy="505.1" r="0.43"/><circle cx="322.6" cy="485.3" r="0.69"/><circle cx="300.7" cy="464.4" r="0.47"/><circle cx="314.7" cy="474.6" r="0.72"/><circle cx="348.8" cy="499.6" r="0.39"/><circle cx="286.8" cy="490.0" r="0.70"/><circle cx="320.3" cy="482.8" r="0.39"/><circle cx="314.1" cy="502.7" r="0.67"/><circle cx="349.3" cy="505.4" r="0.47"/><circle cx="292.6" cy="457.5" r="0.57"/><circle cx="336.1" cy="503.6" r="0.61"/><circle cx="287.3" cy="494.3" r="0.47"/><circle cx="354.2" cy="486.3" r="0.49"/><circle cx="294.0" cy="463.2" r="0.61"/><circle cx="324.2" cy="482.6" r="0.52"/><circle cx="301.3" cy="483.7" r="0.39"/><circle cx="307.2" cy="475.5" r="0.72"/><circle cx="302.1" cy="463.0" r="0.72"/><circle cx="322.2" cy="488.0" r="0.53"/><circle cx="303.9" cy="487.5" r="0.71"/><circle cx="301.5" cy="450.5" r="0.50"/></g>
<rect x="363.0" y="388.6" width="76.8" height="57.0" fill="#031803" stroke="none" stroke-width="1"/>
<rect x="363" y="388.6" width="76.8" height="57.0" fill="#44e444" filter="url(#spkGr1)" mask="url(#mG1)"/>
<rect x="363.0" y="448.5" width="76.8" height="60.0" fill="#031a03" stroke="none" stroke-width="1"/>
<g fill="#4ad84a"><circle cx="387.6" cy="457.3" r="0.88"/><circle cx="368.5" cy="479.8" r="0.73"/><circle cx="367.4" cy="478.2" r="0.57"/><circle cx="396.0" cy="452.6" r="0.60"/><circle cx="395.3" cy="496.9" r="0.61"/><circle cx="380.0" cy="485.2" r="1.02"/><circle cx="406.9" cy="471.7" r="1.04"/><circle cx="366.5" cy="498.7" r="0.69"/><circle cx="374.0" cy="455.4" r="0.70"/><circle cx="425.0" cy="459.1" r="0.84"/><circle cx="367.8" cy="452.0" r="0.65"/><circle cx="407.5" cy="475.0" r="0.70"/><circle cx="406.7" cy="479.2" r="0.99"/><circle cx="418.4" cy="465.3" r="0.61"/><circle cx="394.8" cy="492.8" r="0.63"/><circle cx="400.2" cy="450.8" r="0.88"/><circle cx="421.1" cy="482.0" r="0.71"/><circle cx="397.7" cy="497.6" r="1.02"/><circle cx="399.0" cy="487.4" r="0.58"/><circle cx="416.3" cy="486.4" r="0.96"/><circle cx="384.6" cy="471.1" r="0.88"/><circle cx="364.7" cy="475.5" r="0.63"/><circle cx="371.9" cy="451.9" r="0.93"/><circle cx="372.8" cy="463.0" r="0.75"/><circle cx="429.2" cy="453.2" r="0.77"/><circle cx="404.8" cy="500.2" r="0.96"/><circle cx="428.7" cy="464.8" r="0.76"/><circle cx="390.3" cy="500.2" r="1.03"/><circle cx="374.5" cy="458.8" r="0.67"/><circle cx="380.7" cy="476.9" r="0.84"/><circle cx="383.0" cy="448.7" r="0.76"/><circle cx="391.1" cy="481.6" r="1.03"/><circle cx="415.5" cy="478.7" r="0.89"/><circle cx="367.1" cy="501.1" r="0.94"/><circle cx="429.5" cy="495.2" r="0.75"/><circle cx="393.3" cy="454.6" r="0.87"/><circle cx="367.7" cy="452.4" r="0.65"/><circle cx="375.3" cy="468.4" r="0.58"/><circle cx="363.0" cy="457.3" r="0.60"/><circle cx="390.6" cy="450.0" r="0.99"/><circle cx="409.7" cy="457.2" r="0.68"/><circle cx="389.4" cy="469.8" r="0.61"/><circle cx="427.5" cy="506.6" r="0.78"/><circle cx="399.8" cy="453.5" r="0.60"/><circle cx="389.0" cy="464.0" r="0.96"/><circle cx="375.3" cy="449.9" r="1.03"/><circle cx="403.1" cy="457.1" r="0.82"/><circle cx="365.1" cy="479.4" r="1.04"/><circle cx="428.6" cy="489.2" r="0.68"/><circle cx="390.9" cy="458.3" r="0.94"/><circle cx="403.5" cy="494.1" r="0.71"/><circle cx="380.0" cy="496.0" r="1.04"/><circle cx="427.8" cy="495.7" r="0.96"/><circle cx="390.0" cy="450.2" r="0.56"/><circle cx="384.2" cy="463.7" r="0.90"/><circle cx="435.7" cy="474.7" r="1.02"/><circle cx="438.1" cy="504.4" r="0.73"/><circle cx="379.8" cy="461.8" r="0.65"/><circle cx="378.5" cy="485.0" r="1.00"/><circle cx="426.9" cy="476.5" r="0.88"/><circle cx="423.8" cy="453.5" r="1.00"/><circle cx="376.6" cy="494.7" r="0.72"/><circle cx="393.5" cy="503.9" r="0.91"/><circle cx="375.9" cy="455.9" r="0.63"/><circle cx="431.8" cy="495.7" r="0.62"/><circle cx="425.8" cy="505.8" r="0.88"/><circle cx="389.6" cy="480.6" r="0.62"/><circle cx="364.1" cy="505.3" r="0.87"/><circle cx="403.0" cy="503.1" r="0.77"/><circle cx="429.3" cy="496.8" r="0.66"/><circle cx="382.1" cy="465.6" r="0.67"/><circle cx="407.6" cy="463.7" r="0.76"/><circle cx="373.0" cy="501.7" r="0.73"/><circle cx="397.8" cy="482.6" r="1.00"/><circle cx="395.0" cy="502.2" r="0.80"/><circle cx="403.4" cy="479.1" r="0.56"/><circle cx="396.4" cy="459.2" r="0.55"/><circle cx="402.4" cy="481.0" r="0.94"/><circle cx="371.1" cy="481.3" r="0.67"/><circle cx="384.0" cy="493.7" r="0.80"/><circle cx="405.7" cy="493.0" r="1.01"/><circle cx="396.7" cy="484.3" r="0.80"/><circle cx="401.9" cy="489.0" r="0.78"/><circle cx="403.5" cy="476.5" r="1.02"/><circle cx="416.1" cy="499.8" r="0.68"/><circle cx="405.5" cy="503.7" r="0.97"/><circle cx="373.4" cy="455.6" r="0.77"/><circle cx="368.5" cy="462.6" r="0.59"/><circle cx="413.9" cy="494.4" r="0.63"/><circle cx="430.1" cy="505.1" r="0.66"/><circle cx="435.4" cy="471.8" r="0.79"/><circle cx="438.2" cy="497.2" r="0.63"/><circle cx="395.8" cy="478.7" r="0.72"/><circle cx="377.9" cy="467.1" r="0.91"/><circle cx="364.5" cy="480.9" r="0.77"/><circle cx="364.4" cy="467.9" r="0.86"/><circle cx="401.9" cy="452.3" r="1.04"/><circle cx="383.2" cy="450.8" r="0.94"/><circle cx="383.6" cy="456.1" r="0.76"/><circle cx="432.3" cy="496.4" r="0.68"/><circle cx="374.4" cy="502.3" r="0.84"/><circle cx="434.3" cy="485.6" r="0.95"/><circle cx="369.4" cy="498.6" r="0.58"/><circle cx="428.6" cy="475.0" r="0.72"/><circle cx="405.0" cy="502.7" r="0.68"/><circle cx="372.8" cy="479.3" r="0.67"/><circle cx="371.3" cy="457.9" r="0.58"/><circle cx="378.3" cy="466.8" r="0.70"/><circle cx="376.5" cy="468.8" r="0.56"/><circle cx="382.0" cy="449.4" r="0.92"/><circle cx="404.9" cy="459.6" r="0.79"/><circle cx="434.0" cy="454.7" r="0.96"/><circle cx="395.8" cy="477.5" r="0.97"/><circle cx="392.9" cy="478.1" r="0.89"/><circle cx="437.7" cy="468.5" r="0.97"/><circle cx="389.4" cy="451.7" r="0.61"/><circle cx="368.4" cy="491.8" r="0.68"/><circle cx="375.4" cy="453.4" r="0.97"/><circle cx="429.2" cy="487.7" r="0.69"/><circle cx="381.4" cy="465.6" r="0.78"/><circle cx="375.0" cy="474.6" r="0.68"/><circle cx="436.1" cy="505.4" r="0.82"/><circle cx="381.6" cy="505.0" r="0.70"/><circle cx="390.1" cy="448.6" r="0.74"/><circle cx="399.1" cy="477.9" r="0.65"/><circle cx="401.4" cy="448.8" r="0.68"/><circle cx="369.8" cy="471.9" r="0.57"/><circle cx="364.7" cy="466.3" r="0.67"/><circle cx="407.5" cy="479.5" r="0.93"/><circle cx="413.0" cy="490.4" r="0.74"/><circle cx="387.8" cy="506.1" r="0.62"/><circle cx="426.5" cy="500.7" r="0.86"/><circle cx="402.8" cy="478.0" r="0.97"/><circle cx="430.9" cy="488.4" r="0.90"/><circle cx="380.5" cy="450.3" r="0.62"/><circle cx="390.4" cy="454.6" r="0.97"/><circle cx="405.4" cy="485.2" r="0.86"/><circle cx="403.7" cy="487.1" r="0.58"/><circle cx="383.2" cy="491.2" r="0.65"/><circle cx="392.1" cy="476.5" r="0.89"/><circle cx="421.3" cy="484.6" r="0.59"/><circle cx="374.2" cy="463.4" r="0.92"/><circle cx="386.1" cy="481.7" r="0.56"/><circle cx="367.6" cy="464.2" r="0.89"/><circle cx="402.3" cy="475.7" r="0.78"/><circle cx="372.0" cy="500.8" r="0.65"/><circle cx="437.3" cy="503.3" r="0.56"/><circle cx="397.9" cy="496.5" r="1.03"/><circle cx="397.2" cy="464.2" r="0.65"/><circle cx="434.9" cy="460.8" r="0.84"/><circle cx="373.8" cy="479.2" r="1.03"/><circle cx="373.1" cy="496.5" r="0.80"/><circle cx="430.4" cy="489.6" r="0.67"/><circle cx="431.2" cy="476.9" r="0.56"/><circle cx="363.3" cy="477.3" r="0.78"/><circle cx="385.9" cy="456.7" r="0.72"/><circle cx="387.0" cy="497.7" r="0.55"/><circle cx="433.4" cy="490.2" r="1.00"/><circle cx="385.0" cy="470.3" r="0.75"/><circle cx="438.9" cy="483.0" r="0.73"/><circle cx="395.5" cy="464.6" r="0.57"/><circle cx="370.7" cy="497.3" r="0.69"/><circle cx="434.1" cy="463.1" r="0.68"/><circle cx="401.8" cy="459.6" r="0.74"/><circle cx="435.7" cy="500.2" r="0.96"/><circle cx="410.9" cy="501.9" r="1.02"/><circle cx="404.7" cy="490.6" r="0.57"/><circle cx="418.7" cy="474.9" r="0.87"/><circle cx="384.8" cy="451.4" r="1.01"/><circle cx="372.7" cy="476.1" r="0.72"/><circle cx="385.6" cy="491.7" r="1.04"/><circle cx="382.8" cy="486.9" r="0.70"/><circle cx="405.4" cy="471.6" r="0.63"/><circle cx="375.3" cy="460.7" r="1.00"/><circle cx="400.8" cy="461.4" r="1.00"/><circle cx="438.7" cy="474.8" r="0.62"/><circle cx="377.6" cy="453.8" r="0.72"/><circle cx="369.9" cy="462.5" r="0.68"/><circle cx="406.3" cy="500.4" r="0.92"/><circle cx="394.4" cy="472.7" r="0.81"/><circle cx="391.6" cy="468.3" r="0.58"/><circle cx="384.1" cy="505.1" r="0.61"/><circle cx="401.3" cy="485.3" r="0.98"/><circle cx="379.4" cy="464.4" r="0.67"/><circle cx="393.4" cy="474.6" r="1.03"/><circle cx="427.5" cy="499.6" r="0.56"/><circle cx="365.5" cy="490.0" r="1.00"/><circle cx="399.0" cy="482.8" r="0.55"/><circle cx="392.8" cy="502.7" r="0.96"/><circle cx="428.0" cy="505.4" r="0.67"/><circle cx="371.3" cy="457.5" r="0.81"/><circle cx="414.8" cy="503.6" r="0.87"/><circle cx="366.0" cy="494.3" r="0.67"/><circle cx="432.9" cy="486.3" r="0.70"/><circle cx="372.7" cy="463.2" r="0.87"/><circle cx="402.9" cy="482.6" r="0.74"/><circle cx="380.0" cy="483.7" r="0.56"/><circle cx="385.9" cy="475.5" r="1.03"/><circle cx="380.8" cy="463.0" r="1.03"/><circle cx="400.9" cy="488.0" r="0.76"/><circle cx="382.6" cy="487.5" r="1.01"/><circle cx="380.2" cy="450.5" r="0.72"/></g>
<rect x="443.4" y="388.6" width="76.6" height="57.0" fill="#826a6a" stroke="none" stroke-width="1"/>
<rect x="443.4" y="388.6" width="76.6" height="57.0" fill="#dccccc" filter="url(#spkG2)" opacity="0.7"/>
<rect x="443.4" y="388.6" width="76.6" height="57.0" fill="#e4d8d8" filter="url(#spkG3)" opacity="0.9"/>
<rect x="443.4" y="388.6" width="76.6" height="57.0" fill="#a0e0b8" filter="url(#spkGr1)" mask="url(#mG2)"/>
<rect x="443.4" y="448.5" width="76.6" height="60.0" fill="#8a7676" stroke="none" stroke-width="1"/>
<rect x="443.4" y="448.5" width="76.6" height="60" fill="#b0a0a0" filter="url(#spkG2)" opacity="0.6"/>
<g fill="#a8d8bc"><circle cx="468.0" cy="457.3" r="0.74"/><circle cx="448.9" cy="479.8" r="0.62"/><circle cx="447.8" cy="478.2" r="0.48"/><circle cx="476.4" cy="452.6" r="0.51"/><circle cx="475.7" cy="496.9" r="0.52"/><circle cx="460.4" cy="485.2" r="0.87"/><circle cx="487.3" cy="471.7" r="0.88"/><circle cx="446.9" cy="498.7" r="0.59"/><circle cx="454.4" cy="455.4" r="0.60"/><circle cx="505.4" cy="459.1" r="0.71"/><circle cx="448.2" cy="452.0" r="0.56"/><circle cx="487.9" cy="475.0" r="0.59"/><circle cx="487.1" cy="479.2" r="0.84"/><circle cx="498.8" cy="465.3" r="0.52"/><circle cx="475.2" cy="492.8" r="0.53"/><circle cx="480.6" cy="450.8" r="0.75"/><circle cx="501.5" cy="482.0" r="0.60"/><circle cx="478.1" cy="497.6" r="0.87"/><circle cx="479.4" cy="487.4" r="0.49"/><circle cx="496.7" cy="486.4" r="0.82"/><circle cx="465.0" cy="471.1" r="0.75"/><circle cx="445.1" cy="475.5" r="0.54"/><circle cx="452.3" cy="451.9" r="0.79"/><circle cx="453.2" cy="463.0" r="0.63"/><circle cx="509.6" cy="453.2" r="0.66"/><circle cx="485.2" cy="500.2" r="0.82"/><circle cx="509.1" cy="464.8" r="0.64"/><circle cx="470.7" cy="500.2" r="0.87"/><circle cx="454.9" cy="458.8" r="0.57"/><circle cx="461.1" cy="476.9" r="0.72"/><circle cx="463.4" cy="448.7" r="0.65"/><circle cx="471.5" cy="481.6" r="0.87"/><circle cx="495.9" cy="478.7" r="0.75"/><circle cx="447.5" cy="501.1" r="0.80"/><circle cx="509.9" cy="495.2" r="0.63"/><circle cx="473.7" cy="454.6" r="0.74"/><circle cx="448.1" cy="452.4" r="0.56"/><circle cx="455.7" cy="468.4" r="0.49"/><circle cx="443.4" cy="457.3" r="0.51"/><circle cx="471.0" cy="450.0" r="0.84"/><circle cx="490.1" cy="457.2" r="0.57"/><circle cx="469.8" cy="469.8" r="0.52"/><circle cx="507.9" cy="506.6" r="0.67"/><circle cx="480.2" cy="453.5" r="0.51"/><circle cx="469.4" cy="464.0" r="0.82"/><circle cx="455.7" cy="449.9" r="0.87"/><circle cx="483.5" cy="457.1" r="0.70"/><circle cx="445.5" cy="479.4" r="0.88"/><circle cx="509.0" cy="489.2" r="0.58"/><circle cx="471.3" cy="458.3" r="0.80"/><circle cx="483.9" cy="494.1" r="0.61"/><circle cx="460.4" cy="496.0" r="0.89"/><circle cx="508.2" cy="495.7" r="0.82"/><circle cx="470.4" cy="450.2" r="0.48"/><circle cx="464.6" cy="463.7" r="0.76"/><circle cx="516.1" cy="474.7" r="0.87"/><circle cx="518.5" cy="504.4" r="0.62"/><circle cx="460.2" cy="461.8" r="0.55"/><circle cx="458.9" cy="485.0" r="0.85"/><circle cx="507.3" cy="476.5" r="0.75"/><circle cx="504.2" cy="453.5" r="0.85"/><circle cx="457.0" cy="494.7" r="0.61"/><circle cx="473.9" cy="503.9" r="0.78"/><circle cx="456.3" cy="455.9" r="0.53"/><circle cx="512.2" cy="495.7" r="0.53"/><circle cx="506.2" cy="505.8" r="0.75"/><circle cx="470.0" cy="480.6" r="0.52"/><circle cx="444.5" cy="505.3" r="0.74"/><circle cx="483.4" cy="503.1" r="0.65"/><circle cx="509.7" cy="496.8" r="0.56"/><circle cx="462.5" cy="465.6" r="0.57"/><circle cx="488.0" cy="463.7" r="0.65"/><circle cx="453.4" cy="501.7" r="0.62"/><circle cx="478.2" cy="482.6" r="0.85"/><circle cx="475.4" cy="502.2" r="0.68"/><circle cx="483.8" cy="479.1" r="0.48"/><circle cx="476.8" cy="459.2" r="0.47"/><circle cx="482.8" cy="481.0" r="0.80"/><circle cx="451.5" cy="481.3" r="0.57"/><circle cx="464.4" cy="493.7" r="0.68"/><circle cx="486.1" cy="493.0" r="0.86"/><circle cx="477.1" cy="484.3" r="0.68"/><circle cx="482.3" cy="489.0" r="0.66"/><circle cx="483.9" cy="476.5" r="0.87"/><circle cx="496.5" cy="499.8" r="0.58"/><circle cx="485.9" cy="503.7" r="0.82"/><circle cx="453.8" cy="455.6" r="0.66"/><circle cx="448.9" cy="462.6" r="0.50"/><circle cx="494.3" cy="494.4" r="0.53"/><circle cx="510.5" cy="505.1" r="0.56"/><circle cx="515.8" cy="471.8" r="0.67"/><circle cx="518.6" cy="497.2" r="0.54"/><circle cx="476.2" cy="478.7" r="0.61"/><circle cx="458.3" cy="467.1" r="0.77"/><circle cx="444.9" cy="480.9" r="0.65"/><circle cx="444.8" cy="467.9" r="0.73"/><circle cx="482.3" cy="452.3" r="0.89"/><circle cx="463.6" cy="450.8" r="0.80"/><circle cx="464.0" cy="456.1" r="0.65"/><circle cx="512.7" cy="496.4" r="0.58"/><circle cx="454.8" cy="502.3" r="0.71"/><circle cx="514.7" cy="485.6" r="0.81"/><circle cx="449.8" cy="498.6" r="0.50"/><circle cx="509.0" cy="475.0" r="0.61"/><circle cx="485.4" cy="502.7" r="0.58"/><circle cx="453.2" cy="479.3" r="0.57"/><circle cx="451.7" cy="457.9" r="0.49"/><circle cx="458.7" cy="466.8" r="0.60"/><circle cx="456.9" cy="468.8" r="0.48"/><circle cx="462.4" cy="449.4" r="0.78"/><circle cx="485.3" cy="459.6" r="0.67"/><circle cx="514.4" cy="454.7" r="0.82"/><circle cx="476.2" cy="477.5" r="0.82"/><circle cx="473.3" cy="478.1" r="0.76"/><circle cx="518.1" cy="468.5" r="0.82"/><circle cx="469.8" cy="451.7" r="0.52"/><circle cx="448.8" cy="491.8" r="0.58"/><circle cx="455.8" cy="453.4" r="0.83"/><circle cx="509.6" cy="487.7" r="0.59"/><circle cx="461.8" cy="465.6" r="0.66"/><circle cx="455.4" cy="474.6" r="0.58"/><circle cx="516.5" cy="505.4" r="0.70"/><circle cx="462.0" cy="505.0" r="0.60"/><circle cx="470.5" cy="448.6" r="0.63"/><circle cx="479.5" cy="477.9" r="0.55"/><circle cx="481.8" cy="448.8" r="0.58"/><circle cx="450.2" cy="471.9" r="0.49"/><circle cx="445.1" cy="466.3" r="0.57"/><circle cx="487.9" cy="479.5" r="0.79"/><circle cx="493.4" cy="490.4" r="0.63"/><circle cx="468.2" cy="506.1" r="0.53"/><circle cx="506.9" cy="500.7" r="0.73"/><circle cx="483.2" cy="478.0" r="0.82"/><circle cx="511.3" cy="488.4" r="0.76"/><circle cx="460.9" cy="450.3" r="0.52"/><circle cx="470.8" cy="454.6" r="0.82"/><circle cx="485.8" cy="485.2" r="0.73"/><circle cx="484.1" cy="487.1" r="0.50"/><circle cx="463.6" cy="491.2" r="0.55"/><circle cx="472.5" cy="476.5" r="0.76"/><circle cx="501.7" cy="484.6" r="0.50"/><circle cx="454.6" cy="463.4" r="0.78"/><circle cx="466.5" cy="481.7" r="0.47"/><circle cx="448.0" cy="464.2" r="0.75"/><circle cx="482.7" cy="475.7" r="0.67"/><circle cx="452.4" cy="500.8" r="0.55"/><circle cx="517.7" cy="503.3" r="0.47"/><circle cx="478.3" cy="496.5" r="0.88"/><circle cx="477.6" cy="464.2" r="0.56"/><circle cx="515.3" cy="460.8" r="0.71"/><circle cx="454.2" cy="479.2" r="0.87"/><circle cx="453.5" cy="496.5" r="0.68"/><circle cx="510.8" cy="489.6" r="0.57"/><circle cx="511.6" cy="476.9" r="0.48"/><circle cx="443.7" cy="477.3" r="0.66"/><circle cx="466.3" cy="456.7" r="0.61"/><circle cx="467.4" cy="497.7" r="0.47"/><circle cx="513.8" cy="490.2" r="0.85"/><circle cx="465.4" cy="470.3" r="0.63"/><circle cx="519.3" cy="483.0" r="0.62"/><circle cx="475.9" cy="464.6" r="0.49"/><circle cx="451.1" cy="497.3" r="0.59"/><circle cx="514.5" cy="463.1" r="0.58"/><circle cx="482.2" cy="459.6" r="0.63"/><circle cx="516.1" cy="500.2" r="0.81"/><circle cx="491.3" cy="501.9" r="0.87"/><circle cx="485.1" cy="490.6" r="0.49"/><circle cx="499.1" cy="474.9" r="0.74"/><circle cx="465.2" cy="451.4" r="0.86"/><circle cx="453.1" cy="476.1" r="0.61"/><circle cx="466.0" cy="491.7" r="0.88"/><circle cx="463.2" cy="486.9" r="0.60"/><circle cx="485.8" cy="471.6" r="0.54"/><circle cx="455.7" cy="460.7" r="0.85"/><circle cx="481.2" cy="461.4" r="0.85"/><circle cx="519.1" cy="474.8" r="0.53"/><circle cx="458.0" cy="453.8" r="0.61"/><circle cx="450.3" cy="462.5" r="0.58"/><circle cx="486.7" cy="500.4" r="0.79"/><circle cx="474.8" cy="472.7" r="0.69"/><circle cx="472.0" cy="468.3" r="0.49"/><circle cx="464.5" cy="505.1" r="0.52"/><circle cx="481.7" cy="485.3" r="0.83"/><circle cx="459.8" cy="464.4" r="0.57"/><circle cx="473.8" cy="474.6" r="0.87"/><circle cx="507.9" cy="499.6" r="0.48"/><circle cx="445.9" cy="490.0" r="0.85"/><circle cx="479.4" cy="482.8" r="0.47"/><circle cx="473.2" cy="502.7" r="0.82"/><circle cx="508.4" cy="505.4" r="0.57"/><circle cx="451.7" cy="457.5" r="0.69"/><circle cx="495.2" cy="503.6" r="0.74"/><circle cx="446.4" cy="494.3" r="0.57"/><circle cx="513.3" cy="486.3" r="0.60"/><circle cx="453.1" cy="463.2" r="0.74"/><circle cx="483.3" cy="482.6" r="0.63"/><circle cx="460.4" cy="483.7" r="0.47"/><circle cx="466.3" cy="475.5" r="0.88"/><circle cx="461.2" cy="463.0" r="0.88"/><circle cx="481.3" cy="488.0" r="0.65"/><circle cx="463.0" cy="487.5" r="0.86"/><circle cx="460.6" cy="450.5" r="0.61"/></g>
</svg>
</body></html>
